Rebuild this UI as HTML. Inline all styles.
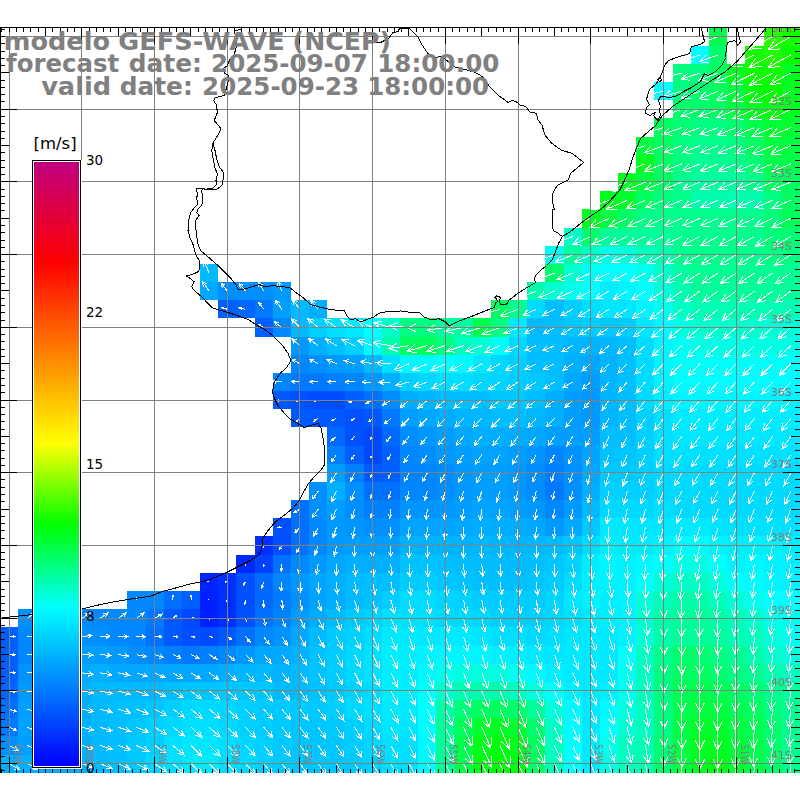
<!DOCTYPE html>
<html><head><meta charset="utf-8"><title>GEFS-WAVE</title>
<style>html,body{margin:0;padding:0;background:#fff}svg{display:block}text{font-family:"DejaVu Sans","Liberation Sans",sans-serif}</style></head>
<body>
<svg width="800" height="800" viewBox="0 0 800 800">
<rect width="800" height="800" fill="#fff"/>
<g shape-rendering="crispEdges">
<rect x="709" y="28" width="18" height="18" fill="#00ff4c"/><rect x="764" y="28" width="18" height="18" fill="#26ff00"/><rect x="782" y="28" width="18" height="18" fill="#13ff00"/>
<rect x="691" y="46" width="18" height="18" fill="#00ffff"/><rect x="709" y="46" width="18" height="18" fill="#00ff6c"/><rect x="745" y="46" width="19" height="18" fill="#13ff00"/><rect x="764" y="46" width="18" height="18" fill="#20ff00"/><rect x="782" y="46" width="18" height="18" fill="#06ff00"/>
<rect x="673" y="64" width="36" height="18" fill="#00ff80"/><rect x="709" y="64" width="18" height="18" fill="#00ff60"/><rect x="727" y="64" width="18" height="18" fill="#00ff20"/><rect x="745" y="64" width="37" height="18" fill="#0dff00"/><rect x="782" y="64" width="18" height="18" fill="#00ff20"/>
<rect x="654" y="82" width="19" height="18" fill="#00ffff"/><rect x="673" y="82" width="18" height="18" fill="#00ff80"/><rect x="691" y="82" width="18" height="18" fill="#00ff73"/><rect x="709" y="82" width="18" height="18" fill="#00ff60"/><rect x="727" y="82" width="18" height="18" fill="#00ff40"/><rect x="745" y="82" width="19" height="18" fill="#00ff0d"/><rect x="764" y="82" width="18" height="18" fill="#00ff00"/><rect x="782" y="82" width="18" height="18" fill="#00ff20"/>
<rect x="673" y="100" width="36" height="18" fill="#00ff6c"/><rect x="709" y="100" width="18" height="18" fill="#00ff60"/><rect x="727" y="100" width="18" height="18" fill="#00ff40"/><rect x="745" y="100" width="19" height="18" fill="#00ff20"/><rect x="764" y="100" width="18" height="18" fill="#00ff0d"/><rect x="782" y="100" width="18" height="18" fill="#00ff20"/>
<rect x="654" y="118" width="19" height="19" fill="#00ff60"/><rect x="673" y="118" width="18" height="19" fill="#00ff73"/><rect x="691" y="118" width="36" height="19" fill="#00ff80"/><rect x="727" y="118" width="18" height="19" fill="#00ff6c"/><rect x="745" y="118" width="19" height="19" fill="#00ff4c"/><rect x="764" y="118" width="36" height="19" fill="#00ff33"/>
<rect x="636" y="137" width="18" height="18" fill="#00ff40"/><rect x="654" y="137" width="19" height="18" fill="#00ff60"/><rect x="673" y="137" width="18" height="18" fill="#00ff80"/><rect x="691" y="137" width="36" height="18" fill="#00ff8c"/><rect x="727" y="137" width="18" height="18" fill="#00ff80"/><rect x="745" y="137" width="19" height="18" fill="#00ff60"/><rect x="764" y="137" width="36" height="18" fill="#00ff40"/>
<rect x="636" y="155" width="18" height="18" fill="#00ff20"/><rect x="654" y="155" width="19" height="18" fill="#00ff60"/><rect x="673" y="155" width="18" height="18" fill="#00ff80"/><rect x="691" y="155" width="36" height="18" fill="#00ff93"/><rect x="727" y="155" width="18" height="18" fill="#00ff8c"/><rect x="745" y="155" width="19" height="18" fill="#00ff73"/><rect x="764" y="155" width="36" height="18" fill="#00ff4c"/>
<rect x="618" y="173" width="18" height="18" fill="#00ff20"/><rect x="636" y="173" width="18" height="18" fill="#00ff40"/><rect x="654" y="173" width="19" height="18" fill="#00ff60"/><rect x="673" y="173" width="18" height="18" fill="#00ff8c"/><rect x="691" y="173" width="54" height="18" fill="#00ff9f"/><rect x="745" y="173" width="19" height="18" fill="#00ff8c"/><rect x="764" y="173" width="36" height="18" fill="#00ff60"/>
<rect x="600" y="191" width="18" height="18" fill="#00ff1a"/><rect x="618" y="191" width="18" height="18" fill="#00ff2d"/><rect x="636" y="191" width="18" height="18" fill="#00ff60"/><rect x="654" y="191" width="19" height="18" fill="#00ff80"/><rect x="673" y="191" width="18" height="18" fill="#00ff8c"/><rect x="691" y="191" width="36" height="18" fill="#00ffac"/><rect x="727" y="191" width="18" height="18" fill="#00ffb3"/><rect x="745" y="191" width="19" height="18" fill="#00ffac"/><rect x="764" y="191" width="18" height="18" fill="#00ff80"/><rect x="782" y="191" width="18" height="18" fill="#00ff60"/>
<rect x="582" y="209" width="18" height="19" fill="#00ff20"/><rect x="600" y="209" width="18" height="19" fill="#00ff40"/><rect x="618" y="209" width="18" height="19" fill="#00ff66"/><rect x="636" y="209" width="18" height="19" fill="#00ff86"/><rect x="654" y="209" width="110" height="19" fill="#00ff8c"/><rect x="764" y="209" width="18" height="19" fill="#00ff79"/><rect x="782" y="209" width="18" height="19" fill="#00ff59"/>
<rect x="564" y="228" width="18" height="18" fill="#00ffc6"/><rect x="582" y="228" width="18" height="18" fill="#00ff6c"/><rect x="600" y="228" width="73" height="18" fill="#00ff99"/><rect x="673" y="228" width="91" height="18" fill="#00ff8c"/><rect x="764" y="228" width="18" height="18" fill="#00ff79"/><rect x="782" y="228" width="18" height="18" fill="#00ff73"/>
<rect x="545" y="246" width="19" height="18" fill="#00fff2"/><rect x="564" y="246" width="18" height="18" fill="#00ff9f"/><rect x="582" y="246" width="18" height="18" fill="#00ffc6"/><rect x="600" y="246" width="18" height="18" fill="#00ffe5"/><rect x="618" y="246" width="18" height="18" fill="#00ffd9"/><rect x="636" y="246" width="18" height="18" fill="#00ffbf"/><rect x="654" y="246" width="19" height="18" fill="#00ffac"/><rect x="673" y="246" width="91" height="18" fill="#00ff8c"/><rect x="764" y="246" width="36" height="18" fill="#00ff80"/>
<rect x="200" y="264" width="18" height="18" fill="#00b9ff"/><rect x="545" y="264" width="19" height="18" fill="#00ff6c"/><rect x="564" y="264" width="18" height="18" fill="#00ffd2"/><rect x="582" y="264" width="18" height="18" fill="#00fff2"/><rect x="600" y="264" width="36" height="18" fill="#00ffff"/><rect x="636" y="264" width="18" height="18" fill="#00ffec"/><rect x="654" y="264" width="19" height="18" fill="#00ffc6"/><rect x="673" y="264" width="18" height="18" fill="#00ff9f"/><rect x="691" y="264" width="109" height="18" fill="#00ff93"/>
<rect x="200" y="282" width="18" height="18" fill="#00a9ff"/><rect x="218" y="282" width="55" height="18" fill="#008fff"/><rect x="273" y="282" width="18" height="18" fill="#0099ff"/><rect x="527" y="282" width="18" height="18" fill="#00ffac"/><rect x="545" y="282" width="19" height="18" fill="#00ffd2"/><rect x="564" y="282" width="18" height="18" fill="#00ffec"/><rect x="582" y="282" width="18" height="18" fill="#00ffff"/><rect x="600" y="282" width="18" height="18" fill="#00ecff"/><rect x="618" y="282" width="18" height="18" fill="#00f5ff"/><rect x="636" y="282" width="18" height="18" fill="#00ffff"/><rect x="654" y="282" width="19" height="18" fill="#00ffd9"/><rect x="673" y="282" width="18" height="18" fill="#00ffb3"/><rect x="691" y="282" width="109" height="18" fill="#00ff99"/>
<rect x="218" y="300" width="18" height="18" fill="#0060ff"/><rect x="236" y="300" width="19" height="18" fill="#0066ff"/><rect x="255" y="300" width="18" height="18" fill="#0079ff"/><rect x="273" y="300" width="18" height="18" fill="#009fff"/><rect x="291" y="300" width="18" height="18" fill="#00b9ff"/><rect x="309" y="300" width="18" height="18" fill="#00afff"/><rect x="491" y="300" width="18" height="18" fill="#00ff60"/><rect x="509" y="300" width="18" height="18" fill="#00ff8c"/><rect x="527" y="300" width="18" height="18" fill="#00d9ff"/><rect x="545" y="300" width="19" height="18" fill="#00beff"/><rect x="564" y="300" width="18" height="18" fill="#00ceff"/><rect x="582" y="300" width="18" height="18" fill="#00deff"/><rect x="600" y="300" width="18" height="18" fill="#00e7ff"/><rect x="618" y="300" width="18" height="18" fill="#00e6ff"/><rect x="636" y="300" width="18" height="18" fill="#00f5ff"/><rect x="654" y="300" width="19" height="18" fill="#00ffec"/><rect x="673" y="300" width="18" height="18" fill="#00ffc6"/><rect x="691" y="300" width="109" height="18" fill="#00ffb3"/>
<rect x="255" y="318" width="18" height="19" fill="#0060ff"/><rect x="273" y="318" width="18" height="19" fill="#0089ff"/><rect x="291" y="318" width="18" height="19" fill="#00b9ff"/><rect x="309" y="318" width="18" height="19" fill="#00cfff"/><rect x="327" y="318" width="18" height="19" fill="#00dfff"/><rect x="345" y="318" width="19" height="19" fill="#00e9ff"/><rect x="364" y="318" width="18" height="19" fill="#00ffff"/><rect x="382" y="318" width="18" height="19" fill="#00ffc6"/><rect x="400" y="318" width="36" height="19" fill="#00ff80"/><rect x="436" y="318" width="37" height="19" fill="#00ff9f"/><rect x="473" y="318" width="18" height="19" fill="#00ff4c"/><rect x="491" y="318" width="18" height="19" fill="#00ff80"/><rect x="509" y="318" width="18" height="19" fill="#00e9ff"/><rect x="527" y="318" width="18" height="19" fill="#00b9ff"/><rect x="545" y="318" width="19" height="19" fill="#00beff"/><rect x="564" y="318" width="18" height="19" fill="#00c7ff"/><rect x="582" y="318" width="18" height="19" fill="#00ceff"/><rect x="600" y="318" width="18" height="19" fill="#00c7ff"/><rect x="618" y="318" width="18" height="19" fill="#00ccff"/><rect x="636" y="318" width="18" height="19" fill="#00e6ff"/><rect x="654" y="318" width="19" height="19" fill="#00f9ff"/><rect x="673" y="318" width="18" height="19" fill="#00ffdf"/><rect x="691" y="318" width="73" height="19" fill="#00ffcc"/><rect x="764" y="318" width="36" height="19" fill="#00ffd9"/>
<rect x="291" y="337" width="18" height="18" fill="#0099ff"/><rect x="309" y="337" width="18" height="18" fill="#00afff"/><rect x="327" y="337" width="18" height="18" fill="#00bfff"/><rect x="345" y="337" width="19" height="18" fill="#00cfff"/><rect x="364" y="337" width="18" height="18" fill="#00f9ff"/><rect x="382" y="337" width="18" height="18" fill="#00ffac"/><rect x="400" y="337" width="18" height="18" fill="#00ff60"/><rect x="418" y="337" width="18" height="18" fill="#00ff59"/><rect x="436" y="337" width="19" height="18" fill="#00ff80"/><rect x="455" y="337" width="18" height="18" fill="#00ffbf"/><rect x="473" y="337" width="18" height="18" fill="#00ffd2"/><rect x="491" y="337" width="18" height="18" fill="#00fff9"/><rect x="509" y="337" width="18" height="18" fill="#00d9ff"/><rect x="527" y="337" width="18" height="18" fill="#00bfff"/><rect x="545" y="337" width="19" height="18" fill="#00beff"/><rect x="564" y="337" width="18" height="18" fill="#00b7ff"/><rect x="582" y="337" width="18" height="18" fill="#00b4ff"/><rect x="600" y="337" width="18" height="18" fill="#00b7ff"/><rect x="618" y="337" width="18" height="18" fill="#00bfff"/><rect x="636" y="337" width="18" height="18" fill="#00dcff"/><rect x="654" y="337" width="19" height="18" fill="#00f5ff"/><rect x="673" y="337" width="18" height="18" fill="#00fff2"/><rect x="691" y="337" width="109" height="18" fill="#00ffe5"/>
<rect x="291" y="355" width="18" height="18" fill="#0086ff"/><rect x="309" y="355" width="18" height="18" fill="#008fff"/><rect x="327" y="355" width="18" height="18" fill="#0099ff"/><rect x="345" y="355" width="19" height="18" fill="#009fff"/><rect x="364" y="355" width="18" height="18" fill="#00b9ff"/><rect x="382" y="355" width="18" height="18" fill="#00dfff"/><rect x="400" y="355" width="36" height="18" fill="#00f9ff"/><rect x="436" y="355" width="19" height="18" fill="#00ffff"/><rect x="455" y="355" width="18" height="18" fill="#00f9ff"/><rect x="473" y="355" width="18" height="18" fill="#00e9ff"/><rect x="491" y="355" width="18" height="18" fill="#00d9ff"/><rect x="509" y="355" width="18" height="18" fill="#00cfff"/><rect x="527" y="355" width="18" height="18" fill="#00bfff"/><rect x="545" y="355" width="19" height="18" fill="#00beff"/><rect x="564" y="355" width="18" height="18" fill="#00aeff"/><rect x="582" y="355" width="18" height="18" fill="#00a7ff"/><rect x="600" y="355" width="18" height="18" fill="#00b4ff"/><rect x="618" y="355" width="18" height="18" fill="#00bfff"/><rect x="636" y="355" width="18" height="18" fill="#00dcff"/><rect x="654" y="355" width="19" height="18" fill="#00f5ff"/><rect x="673" y="355" width="127" height="18" fill="#00fff9"/>
<rect x="273" y="373" width="18" height="18" fill="#0086ff"/><rect x="291" y="373" width="36" height="18" fill="#0079ff"/><rect x="327" y="373" width="18" height="18" fill="#0080ff"/><rect x="345" y="373" width="19" height="18" fill="#0086ff"/><rect x="364" y="373" width="18" height="18" fill="#0099ff"/><rect x="382" y="373" width="18" height="18" fill="#00afff"/><rect x="400" y="373" width="18" height="18" fill="#00ceff"/><rect x="418" y="373" width="18" height="18" fill="#00d7ff"/><rect x="436" y="373" width="37" height="18" fill="#00deff"/><rect x="473" y="373" width="18" height="18" fill="#00d7ff"/><rect x="491" y="373" width="18" height="18" fill="#00d4ff"/><rect x="509" y="373" width="18" height="18" fill="#00ceff"/><rect x="527" y="373" width="18" height="18" fill="#00c7ff"/><rect x="545" y="373" width="19" height="18" fill="#00beff"/><rect x="564" y="373" width="18" height="18" fill="#00a7ff"/><rect x="582" y="373" width="18" height="18" fill="#009eff"/><rect x="600" y="373" width="18" height="18" fill="#00b4ff"/><rect x="618" y="373" width="18" height="18" fill="#00bfff"/><rect x="636" y="373" width="18" height="18" fill="#00dcff"/><rect x="654" y="373" width="19" height="18" fill="#00f2ff"/><rect x="673" y="373" width="127" height="18" fill="#00fcff"/>
<rect x="273" y="391" width="18" height="18" fill="#0059ff"/><rect x="291" y="391" width="18" height="18" fill="#0050ff"/><rect x="309" y="391" width="36" height="18" fill="#004cff"/><rect x="345" y="391" width="19" height="18" fill="#0060ff"/><rect x="364" y="391" width="18" height="18" fill="#0070ff"/><rect x="382" y="391" width="18" height="18" fill="#008cff"/><rect x="400" y="391" width="18" height="18" fill="#00aeff"/><rect x="418" y="391" width="18" height="18" fill="#00b7ff"/><rect x="436" y="391" width="55" height="18" fill="#00beff"/><rect x="491" y="391" width="36" height="18" fill="#00c7ff"/><rect x="527" y="391" width="18" height="18" fill="#00beff"/><rect x="545" y="391" width="19" height="18" fill="#00aeff"/><rect x="564" y="391" width="18" height="18" fill="#009eff"/><rect x="582" y="391" width="18" height="18" fill="#0097ff"/><rect x="600" y="391" width="18" height="18" fill="#00b7ff"/><rect x="618" y="391" width="18" height="18" fill="#00bfff"/><rect x="636" y="391" width="18" height="18" fill="#00d9ff"/><rect x="654" y="391" width="19" height="18" fill="#00ecff"/><rect x="673" y="391" width="127" height="18" fill="#00f5ff"/>
<rect x="291" y="409" width="54" height="18" fill="#0059ff"/><rect x="345" y="409" width="19" height="18" fill="#0050ff"/><rect x="364" y="409" width="18" height="18" fill="#0059ff"/><rect x="382" y="409" width="18" height="18" fill="#0079ff"/><rect x="400" y="409" width="18" height="18" fill="#009eff"/><rect x="418" y="409" width="18" height="18" fill="#00a7ff"/><rect x="436" y="409" width="19" height="18" fill="#00aeff"/><rect x="455" y="409" width="18" height="18" fill="#00b4ff"/><rect x="473" y="409" width="18" height="18" fill="#00b7ff"/><rect x="491" y="409" width="36" height="18" fill="#00beff"/><rect x="527" y="409" width="18" height="18" fill="#00b7ff"/><rect x="545" y="409" width="19" height="18" fill="#00aeff"/><rect x="564" y="409" width="18" height="18" fill="#009eff"/><rect x="582" y="409" width="18" height="18" fill="#0097ff"/><rect x="600" y="409" width="18" height="18" fill="#00b7ff"/><rect x="618" y="409" width="18" height="18" fill="#00bfff"/><rect x="636" y="409" width="18" height="18" fill="#00cfff"/><rect x="654" y="409" width="19" height="18" fill="#00dfff"/><rect x="673" y="409" width="18" height="18" fill="#00eaff"/><rect x="691" y="409" width="109" height="18" fill="#00edff"/>
<rect x="327" y="427" width="18" height="19" fill="#0069ff"/><rect x="345" y="427" width="19" height="19" fill="#0050ff"/><rect x="364" y="427" width="18" height="19" fill="#0049ff"/><rect x="382" y="427" width="18" height="19" fill="#0069ff"/><rect x="400" y="427" width="18" height="19" fill="#008eff"/><rect x="418" y="427" width="18" height="19" fill="#0097ff"/><rect x="436" y="427" width="19" height="19" fill="#009eff"/><rect x="455" y="427" width="18" height="19" fill="#00a7ff"/><rect x="473" y="427" width="54" height="19" fill="#00aeff"/><rect x="527" y="427" width="18" height="19" fill="#00a7ff"/><rect x="545" y="427" width="55" height="19" fill="#009eff"/><rect x="600" y="427" width="18" height="19" fill="#00beff"/><rect x="618" y="427" width="18" height="19" fill="#00bfff"/><rect x="636" y="427" width="18" height="19" fill="#00cfff"/><rect x="654" y="427" width="19" height="19" fill="#00dfff"/><rect x="673" y="427" width="127" height="19" fill="#00e7ff"/>
<rect x="327" y="446" width="18" height="18" fill="#0080ff"/><rect x="345" y="446" width="19" height="18" fill="#0060ff"/><rect x="364" y="446" width="18" height="18" fill="#0049ff"/><rect x="382" y="446" width="18" height="18" fill="#0060ff"/><rect x="400" y="446" width="18" height="18" fill="#0087ff"/><rect x="418" y="446" width="18" height="18" fill="#008eff"/><rect x="436" y="446" width="19" height="18" fill="#0097ff"/><rect x="455" y="446" width="18" height="18" fill="#009eff"/><rect x="473" y="446" width="36" height="18" fill="#00a4ff"/><rect x="509" y="446" width="18" height="18" fill="#009eff"/><rect x="527" y="446" width="18" height="18" fill="#0094ff"/><rect x="545" y="446" width="19" height="18" fill="#0086ff"/><rect x="564" y="446" width="18" height="18" fill="#0093ff"/><rect x="582" y="446" width="18" height="18" fill="#00a3ff"/><rect x="600" y="446" width="18" height="18" fill="#00c2ff"/><rect x="618" y="446" width="18" height="18" fill="#00c6ff"/><rect x="636" y="446" width="18" height="18" fill="#00cfff"/><rect x="654" y="446" width="19" height="18" fill="#00dfff"/><rect x="673" y="446" width="127" height="18" fill="#00e1ff"/>
<rect x="327" y="464" width="18" height="18" fill="#009fff"/><rect x="345" y="464" width="19" height="18" fill="#0080ff"/><rect x="364" y="464" width="18" height="18" fill="#0059ff"/><rect x="382" y="464" width="18" height="18" fill="#0060ff"/><rect x="400" y="464" width="18" height="18" fill="#0084ff"/><rect x="418" y="464" width="18" height="18" fill="#0087ff"/><rect x="436" y="464" width="19" height="18" fill="#008eff"/><rect x="455" y="464" width="18" height="18" fill="#0097ff"/><rect x="473" y="464" width="36" height="18" fill="#009eff"/><rect x="509" y="464" width="18" height="18" fill="#0097ff"/><rect x="527" y="464" width="18" height="18" fill="#008eff"/><rect x="545" y="464" width="19" height="18" fill="#0080ff"/><rect x="564" y="464" width="18" height="18" fill="#008fff"/><rect x="582" y="464" width="18" height="18" fill="#00a9ff"/><rect x="600" y="464" width="36" height="18" fill="#00c9ff"/><rect x="636" y="464" width="18" height="18" fill="#00cfff"/><rect x="654" y="464" width="19" height="18" fill="#00d9ff"/><rect x="673" y="464" width="127" height="18" fill="#00daff"/>
<rect x="309" y="482" width="18" height="18" fill="#008fff"/><rect x="327" y="482" width="18" height="18" fill="#00afff"/><rect x="345" y="482" width="19" height="18" fill="#008fff"/><rect x="364" y="482" width="36" height="18" fill="#0070ff"/><rect x="400" y="482" width="36" height="18" fill="#0087ff"/><rect x="436" y="482" width="19" height="18" fill="#008eff"/><rect x="455" y="482" width="18" height="18" fill="#0097ff"/><rect x="473" y="482" width="36" height="18" fill="#009eff"/><rect x="509" y="482" width="18" height="18" fill="#0097ff"/><rect x="527" y="482" width="18" height="18" fill="#008eff"/><rect x="545" y="482" width="19" height="18" fill="#0079ff"/><rect x="564" y="482" width="18" height="18" fill="#008fff"/><rect x="582" y="482" width="18" height="18" fill="#00afff"/><rect x="600" y="482" width="54" height="18" fill="#00cfff"/><rect x="654" y="482" width="19" height="18" fill="#00d9ff"/><rect x="673" y="482" width="127" height="18" fill="#00daff"/>
<rect x="291" y="500" width="18" height="18" fill="#0070ff"/><rect x="309" y="500" width="18" height="18" fill="#008fff"/><rect x="327" y="500" width="18" height="18" fill="#009fff"/><rect x="345" y="500" width="19" height="18" fill="#008fff"/><rect x="364" y="500" width="36" height="18" fill="#0080ff"/><rect x="400" y="500" width="36" height="18" fill="#0094ff"/><rect x="436" y="500" width="19" height="18" fill="#0097ff"/><rect x="455" y="500" width="18" height="18" fill="#009eff"/><rect x="473" y="500" width="36" height="18" fill="#00a4ff"/><rect x="509" y="500" width="18" height="18" fill="#009eff"/><rect x="527" y="500" width="18" height="18" fill="#0097ff"/><rect x="545" y="500" width="19" height="18" fill="#0089ff"/><rect x="564" y="500" width="18" height="18" fill="#0099ff"/><rect x="582" y="500" width="18" height="18" fill="#00b9ff"/><rect x="600" y="500" width="54" height="18" fill="#00d9ff"/><rect x="654" y="500" width="19" height="18" fill="#00dfff"/><rect x="673" y="500" width="127" height="18" fill="#00daff"/>
<rect x="273" y="518" width="18" height="18" fill="#0050ff"/><rect x="291" y="518" width="18" height="18" fill="#0070ff"/><rect x="309" y="518" width="18" height="18" fill="#0089ff"/><rect x="327" y="518" width="18" height="18" fill="#0099ff"/><rect x="345" y="518" width="19" height="18" fill="#0096ff"/><rect x="364" y="518" width="36" height="18" fill="#008fff"/><rect x="400" y="518" width="55" height="18" fill="#00a4ff"/><rect x="455" y="518" width="18" height="18" fill="#00a7ff"/><rect x="473" y="518" width="54" height="18" fill="#00aeff"/><rect x="527" y="518" width="18" height="18" fill="#00a7ff"/><rect x="545" y="518" width="19" height="18" fill="#0099ff"/><rect x="564" y="518" width="18" height="18" fill="#00a9ff"/><rect x="582" y="518" width="18" height="18" fill="#00c9ff"/><rect x="600" y="518" width="18" height="18" fill="#00e9ff"/><rect x="618" y="518" width="36" height="18" fill="#00e6ff"/><rect x="654" y="518" width="19" height="18" fill="#00e9ff"/><rect x="673" y="518" width="36" height="18" fill="#00eaff"/><rect x="709" y="518" width="18" height="18" fill="#00e4ff"/><rect x="727" y="518" width="73" height="18" fill="#00e1ff"/>
<rect x="255" y="536" width="18" height="19" fill="#0030ff"/><rect x="273" y="536" width="18" height="19" fill="#0050ff"/><rect x="291" y="536" width="18" height="19" fill="#0070ff"/><rect x="309" y="536" width="18" height="19" fill="#0089ff"/><rect x="327" y="536" width="18" height="19" fill="#0099ff"/><rect x="345" y="536" width="55" height="19" fill="#009fff"/><rect x="400" y="536" width="73" height="19" fill="#00b3ff"/><rect x="473" y="536" width="72" height="19" fill="#00b6ff"/><rect x="545" y="536" width="19" height="19" fill="#00bcff"/><rect x="564" y="536" width="18" height="19" fill="#00c6ff"/><rect x="582" y="536" width="18" height="19" fill="#00dcff"/><rect x="600" y="536" width="18" height="19" fill="#00efff"/><rect x="618" y="536" width="18" height="19" fill="#00e9ff"/><rect x="636" y="536" width="18" height="19" fill="#00ecff"/><rect x="654" y="536" width="19" height="19" fill="#00f2ff"/><rect x="673" y="536" width="36" height="19" fill="#00fcff"/><rect x="709" y="536" width="18" height="19" fill="#00f2ff"/><rect x="727" y="536" width="18" height="19" fill="#00ecff"/><rect x="745" y="536" width="55" height="19" fill="#00efff"/>
<rect x="236" y="555" width="19" height="18" fill="#0029ff"/><rect x="255" y="555" width="18" height="18" fill="#0040ff"/><rect x="273" y="555" width="18" height="18" fill="#0070ff"/><rect x="291" y="555" width="18" height="18" fill="#0089ff"/><rect x="309" y="555" width="18" height="18" fill="#0099ff"/><rect x="327" y="555" width="18" height="18" fill="#00a6ff"/><rect x="345" y="555" width="55" height="18" fill="#00afff"/><rect x="400" y="555" width="36" height="18" fill="#00c2ff"/><rect x="436" y="555" width="19" height="18" fill="#00bfff"/><rect x="455" y="555" width="72" height="18" fill="#00bcff"/><rect x="527" y="555" width="18" height="18" fill="#00bfff"/><rect x="545" y="555" width="19" height="18" fill="#00c6ff"/><rect x="564" y="555" width="18" height="18" fill="#00d2ff"/><rect x="582" y="555" width="18" height="18" fill="#00ecff"/><rect x="600" y="555" width="18" height="18" fill="#00f5ff"/><rect x="618" y="555" width="18" height="18" fill="#00f2ff"/><rect x="636" y="555" width="18" height="18" fill="#00f9ff"/><rect x="654" y="555" width="19" height="18" fill="#00fff9"/><rect x="673" y="555" width="36" height="18" fill="#00ffe5"/><rect x="709" y="555" width="18" height="18" fill="#00fff9"/><rect x="727" y="555" width="18" height="18" fill="#00f2ff"/><rect x="745" y="555" width="19" height="18" fill="#00f9ff"/><rect x="764" y="555" width="18" height="18" fill="#00f2ff"/><rect x="782" y="555" width="18" height="18" fill="#00efff"/>
<rect x="200" y="573" width="18" height="18" fill="#0026ff"/><rect x="218" y="573" width="18" height="18" fill="#0030ff"/><rect x="236" y="573" width="19" height="18" fill="#0050ff"/><rect x="255" y="573" width="18" height="18" fill="#0069ff"/><rect x="273" y="573" width="18" height="18" fill="#0086ff"/><rect x="291" y="573" width="18" height="18" fill="#0099ff"/><rect x="309" y="573" width="18" height="18" fill="#00a6ff"/><rect x="327" y="573" width="18" height="18" fill="#00afff"/><rect x="345" y="573" width="19" height="18" fill="#00b9ff"/><rect x="364" y="573" width="36" height="18" fill="#00bfff"/><rect x="400" y="573" width="36" height="18" fill="#00ccff"/><rect x="436" y="573" width="19" height="18" fill="#00c6ff"/><rect x="455" y="573" width="18" height="18" fill="#00c2ff"/><rect x="473" y="573" width="54" height="18" fill="#00bfff"/><rect x="527" y="573" width="18" height="18" fill="#00c6ff"/><rect x="545" y="573" width="19" height="18" fill="#00ccff"/><rect x="564" y="573" width="18" height="18" fill="#00dcff"/><rect x="582" y="573" width="18" height="18" fill="#00efff"/><rect x="600" y="573" width="36" height="18" fill="#00f2ff"/><rect x="636" y="573" width="18" height="18" fill="#00fff9"/><rect x="654" y="573" width="19" height="18" fill="#00ffd9"/><rect x="673" y="573" width="36" height="18" fill="#00ffc6"/><rect x="709" y="573" width="18" height="18" fill="#00ffdf"/><rect x="727" y="573" width="18" height="18" fill="#00ffff"/><rect x="745" y="573" width="19" height="18" fill="#00fcff"/><rect x="764" y="573" width="18" height="18" fill="#00f5ff"/><rect x="782" y="573" width="18" height="18" fill="#00f2ff"/>
<rect x="127" y="591" width="37" height="18" fill="#0089ff"/><rect x="164" y="591" width="18" height="18" fill="#0070ff"/><rect x="182" y="591" width="18" height="18" fill="#0060ff"/><rect x="200" y="591" width="18" height="18" fill="#0020ff"/><rect x="218" y="591" width="18" height="18" fill="#0030ff"/><rect x="236" y="591" width="19" height="18" fill="#0050ff"/><rect x="255" y="591" width="18" height="18" fill="#0069ff"/><rect x="273" y="591" width="18" height="18" fill="#007cff"/><rect x="291" y="591" width="18" height="18" fill="#0093ff"/><rect x="309" y="591" width="18" height="18" fill="#00a3ff"/><rect x="327" y="591" width="18" height="18" fill="#00acff"/><rect x="345" y="591" width="19" height="18" fill="#00b9ff"/><rect x="364" y="591" width="18" height="18" fill="#00c2ff"/><rect x="382" y="591" width="18" height="18" fill="#00cfff"/><rect x="400" y="591" width="36" height="18" fill="#00dcff"/><rect x="436" y="591" width="19" height="18" fill="#00d6ff"/><rect x="455" y="591" width="18" height="18" fill="#00d2ff"/><rect x="473" y="591" width="72" height="18" fill="#00ccff"/><rect x="545" y="591" width="19" height="18" fill="#00d6ff"/><rect x="564" y="591" width="18" height="18" fill="#00e6ff"/><rect x="582" y="591" width="18" height="18" fill="#00f2ff"/><rect x="600" y="591" width="18" height="18" fill="#00efff"/><rect x="618" y="591" width="18" height="18" fill="#00f2ff"/><rect x="636" y="591" width="18" height="18" fill="#00ffd9"/><rect x="654" y="591" width="19" height="18" fill="#00ffb9"/><rect x="673" y="591" width="36" height="18" fill="#00ffa6"/><rect x="709" y="591" width="18" height="18" fill="#00ffb9"/><rect x="727" y="591" width="18" height="18" fill="#00ffd9"/><rect x="745" y="591" width="19" height="18" fill="#00ffec"/><rect x="764" y="591" width="36" height="18" fill="#00ffff"/>
<rect x="18" y="609" width="18" height="18" fill="#008fff"/><rect x="36" y="609" width="19" height="18" fill="#008cff"/><rect x="55" y="609" width="91" height="18" fill="#0089ff"/><rect x="146" y="609" width="18" height="18" fill="#0079ff"/><rect x="164" y="609" width="18" height="18" fill="#0059ff"/><rect x="182" y="609" width="18" height="18" fill="#0049ff"/><rect x="200" y="609" width="18" height="18" fill="#0020ff"/><rect x="218" y="609" width="18" height="18" fill="#0030ff"/><rect x="236" y="609" width="19" height="18" fill="#0050ff"/><rect x="255" y="609" width="18" height="18" fill="#0070ff"/><rect x="273" y="609" width="18" height="18" fill="#0083ff"/><rect x="291" y="609" width="18" height="18" fill="#009cff"/><rect x="309" y="609" width="18" height="18" fill="#00acff"/><rect x="327" y="609" width="18" height="18" fill="#00bcff"/><rect x="345" y="609" width="19" height="18" fill="#00c9ff"/><rect x="364" y="609" width="18" height="18" fill="#00d2ff"/><rect x="382" y="609" width="54" height="18" fill="#00dfff"/><rect x="436" y="609" width="37" height="18" fill="#00d9ff"/><rect x="473" y="609" width="18" height="18" fill="#00d6ff"/><rect x="491" y="609" width="54" height="18" fill="#00cfff"/><rect x="545" y="609" width="19" height="18" fill="#00d6ff"/><rect x="564" y="609" width="18" height="18" fill="#00dfff"/><rect x="582" y="609" width="18" height="18" fill="#00e9ff"/><rect x="600" y="609" width="18" height="18" fill="#00efff"/><rect x="618" y="609" width="18" height="18" fill="#00f2ff"/><rect x="636" y="609" width="18" height="18" fill="#00ffcc"/><rect x="654" y="609" width="19" height="18" fill="#00ffa6"/><rect x="673" y="609" width="36" height="18" fill="#00ff99"/><rect x="709" y="609" width="18" height="18" fill="#00ffa6"/><rect x="727" y="609" width="18" height="18" fill="#00ffb9"/><rect x="745" y="609" width="19" height="18" fill="#00ffcc"/><rect x="764" y="609" width="18" height="18" fill="#00ffec"/><rect x="782" y="609" width="18" height="18" fill="#00fff2"/>
<rect x="0" y="627" width="18" height="19" fill="#0060ff"/><rect x="18" y="627" width="18" height="19" fill="#0089ff"/><rect x="36" y="627" width="19" height="19" fill="#0086ff"/><rect x="55" y="627" width="18" height="19" fill="#008cff"/><rect x="73" y="627" width="36" height="19" fill="#008fff"/><rect x="109" y="627" width="18" height="19" fill="#0089ff"/><rect x="127" y="627" width="19" height="19" fill="#0086ff"/><rect x="146" y="627" width="18" height="19" fill="#0070ff"/><rect x="164" y="627" width="18" height="19" fill="#0059ff"/><rect x="182" y="627" width="18" height="19" fill="#0050ff"/><rect x="200" y="627" width="18" height="19" fill="#0049ff"/><rect x="218" y="627" width="18" height="19" fill="#0059ff"/><rect x="236" y="627" width="19" height="19" fill="#0070ff"/><rect x="255" y="627" width="18" height="19" fill="#0089ff"/><rect x="273" y="627" width="18" height="19" fill="#0093ff"/><rect x="291" y="627" width="18" height="19" fill="#00a9ff"/><rect x="309" y="627" width="18" height="19" fill="#00b9ff"/><rect x="327" y="627" width="18" height="19" fill="#00c9ff"/><rect x="345" y="627" width="19" height="19" fill="#00d2ff"/><rect x="364" y="627" width="18" height="19" fill="#00dcff"/><rect x="382" y="627" width="91" height="19" fill="#00e9ff"/><rect x="473" y="627" width="18" height="19" fill="#00e6ff"/><rect x="491" y="627" width="36" height="19" fill="#00dfff"/><rect x="527" y="627" width="18" height="19" fill="#00d9ff"/><rect x="545" y="627" width="19" height="19" fill="#00dfff"/><rect x="564" y="627" width="18" height="19" fill="#00e6ff"/><rect x="582" y="627" width="36" height="19" fill="#00e9ff"/><rect x="618" y="627" width="18" height="19" fill="#00f2ff"/><rect x="636" y="627" width="18" height="19" fill="#00ffd6"/><rect x="654" y="627" width="19" height="19" fill="#00ffa9"/><rect x="673" y="627" width="36" height="19" fill="#00ff96"/><rect x="709" y="627" width="18" height="19" fill="#00ff9c"/><rect x="727" y="627" width="18" height="19" fill="#00ffb6"/><rect x="745" y="627" width="19" height="19" fill="#00ffbc"/><rect x="764" y="627" width="18" height="19" fill="#00ffdc"/><rect x="782" y="627" width="18" height="19" fill="#00ffef"/>
<rect x="0" y="646" width="18" height="18" fill="#0060ff"/><rect x="18" y="646" width="18" height="18" fill="#0089ff"/><rect x="36" y="646" width="19" height="18" fill="#008cff"/><rect x="55" y="646" width="18" height="18" fill="#0099ff"/><rect x="73" y="646" width="36" height="18" fill="#009fff"/><rect x="109" y="646" width="18" height="18" fill="#0099ff"/><rect x="127" y="646" width="19" height="18" fill="#008fff"/><rect x="146" y="646" width="18" height="18" fill="#0089ff"/><rect x="164" y="646" width="18" height="18" fill="#0080ff"/><rect x="182" y="646" width="18" height="18" fill="#0079ff"/><rect x="200" y="646" width="18" height="18" fill="#0080ff"/><rect x="218" y="646" width="18" height="18" fill="#0089ff"/><rect x="236" y="646" width="19" height="18" fill="#0096ff"/><rect x="255" y="646" width="18" height="18" fill="#00a6ff"/><rect x="273" y="646" width="18" height="18" fill="#00a9ff"/><rect x="291" y="646" width="18" height="18" fill="#00b2ff"/><rect x="309" y="646" width="18" height="18" fill="#00c2ff"/><rect x="327" y="646" width="18" height="18" fill="#00ccff"/><rect x="345" y="646" width="19" height="18" fill="#00d9ff"/><rect x="364" y="646" width="18" height="18" fill="#00e2ff"/><rect x="382" y="646" width="36" height="18" fill="#00efff"/><rect x="418" y="646" width="18" height="18" fill="#00f2ff"/><rect x="436" y="646" width="55" height="18" fill="#00f5ff"/><rect x="491" y="646" width="18" height="18" fill="#00f2ff"/><rect x="509" y="646" width="18" height="18" fill="#00efff"/><rect x="527" y="646" width="18" height="18" fill="#00e9ff"/><rect x="545" y="646" width="19" height="18" fill="#00e6ff"/><rect x="564" y="646" width="54" height="18" fill="#00e9ff"/><rect x="618" y="646" width="18" height="18" fill="#00ffff"/><rect x="636" y="646" width="18" height="18" fill="#00ffbf"/><rect x="654" y="646" width="19" height="18" fill="#00ff8c"/><rect x="673" y="646" width="36" height="18" fill="#00ff6c"/><rect x="709" y="646" width="18" height="18" fill="#00ff80"/><rect x="727" y="646" width="18" height="18" fill="#00ff93"/><rect x="745" y="646" width="19" height="18" fill="#00ffac"/><rect x="764" y="646" width="18" height="18" fill="#00ffcc"/><rect x="782" y="646" width="18" height="18" fill="#00ffdf"/>
<rect x="0" y="664" width="18" height="18" fill="#0060ff"/><rect x="18" y="664" width="18" height="18" fill="#0093ff"/><rect x="36" y="664" width="19" height="18" fill="#0096ff"/><rect x="55" y="664" width="18" height="18" fill="#009fff"/><rect x="73" y="664" width="18" height="18" fill="#00a9ff"/><rect x="91" y="664" width="18" height="18" fill="#00afff"/><rect x="109" y="664" width="18" height="18" fill="#00a9ff"/><rect x="127" y="664" width="73" height="18" fill="#00a6ff"/><rect x="200" y="664" width="18" height="18" fill="#00a9ff"/><rect x="218" y="664" width="18" height="18" fill="#00afff"/><rect x="236" y="664" width="19" height="18" fill="#00b6ff"/><rect x="255" y="664" width="18" height="18" fill="#00b9ff"/><rect x="273" y="664" width="18" height="18" fill="#00b2ff"/><rect x="291" y="664" width="18" height="18" fill="#00bcff"/><rect x="309" y="664" width="18" height="18" fill="#00c2ff"/><rect x="327" y="664" width="18" height="18" fill="#00ccff"/><rect x="345" y="664" width="19" height="18" fill="#00d9ff"/><rect x="364" y="664" width="18" height="18" fill="#00e2ff"/><rect x="382" y="664" width="36" height="18" fill="#00efff"/><rect x="418" y="664" width="18" height="18" fill="#00f9ff"/><rect x="436" y="664" width="19" height="18" fill="#00ffec"/><rect x="455" y="664" width="54" height="18" fill="#00ffdf"/><rect x="509" y="664" width="18" height="18" fill="#00fff2"/><rect x="527" y="664" width="18" height="18" fill="#00f9ff"/><rect x="545" y="664" width="19" height="18" fill="#00efff"/><rect x="564" y="664" width="54" height="18" fill="#00e9ff"/><rect x="618" y="664" width="18" height="18" fill="#00fff2"/><rect x="636" y="664" width="18" height="18" fill="#00ffbf"/><rect x="654" y="664" width="19" height="18" fill="#00ff80"/><rect x="673" y="664" width="36" height="18" fill="#00ff60"/><rect x="709" y="664" width="18" height="18" fill="#00ff6c"/><rect x="727" y="664" width="18" height="18" fill="#00ff80"/><rect x="745" y="664" width="19" height="18" fill="#00ff93"/><rect x="764" y="664" width="18" height="18" fill="#00ffac"/><rect x="782" y="664" width="18" height="18" fill="#00ffbf"/>
<rect x="0" y="682" width="18" height="18" fill="#0066ff"/><rect x="18" y="682" width="18" height="18" fill="#0099ff"/><rect x="36" y="682" width="19" height="18" fill="#009cff"/><rect x="55" y="682" width="18" height="18" fill="#00a6ff"/><rect x="73" y="682" width="18" height="18" fill="#00afff"/><rect x="91" y="682" width="73" height="18" fill="#00b9ff"/><rect x="164" y="682" width="18" height="18" fill="#00bfff"/><rect x="182" y="682" width="91" height="18" fill="#00c6ff"/><rect x="273" y="682" width="36" height="18" fill="#00bcff"/><rect x="309" y="682" width="18" height="18" fill="#00c2ff"/><rect x="327" y="682" width="18" height="18" fill="#00c9ff"/><rect x="345" y="682" width="19" height="18" fill="#00d2ff"/><rect x="364" y="682" width="18" height="18" fill="#00dcff"/><rect x="382" y="682" width="36" height="18" fill="#00efff"/><rect x="418" y="682" width="18" height="18" fill="#00ffff"/><rect x="436" y="682" width="19" height="18" fill="#00ffcc"/><rect x="455" y="682" width="18" height="18" fill="#00ffb3"/><rect x="473" y="682" width="36" height="18" fill="#00ffac"/><rect x="509" y="682" width="18" height="18" fill="#00ffbf"/><rect x="527" y="682" width="18" height="18" fill="#00ffdf"/><rect x="545" y="682" width="19" height="18" fill="#00ffff"/><rect x="564" y="682" width="18" height="18" fill="#00efff"/><rect x="582" y="682" width="18" height="18" fill="#00e9ff"/><rect x="600" y="682" width="18" height="18" fill="#00efff"/><rect x="618" y="682" width="18" height="18" fill="#00ffec"/><rect x="636" y="682" width="18" height="18" fill="#00ffbf"/><rect x="654" y="682" width="19" height="18" fill="#00ff80"/><rect x="673" y="682" width="18" height="18" fill="#00ff53"/><rect x="691" y="682" width="18" height="18" fill="#00ff4c"/><rect x="709" y="682" width="18" height="18" fill="#00ff53"/><rect x="727" y="682" width="18" height="18" fill="#00ff60"/><rect x="745" y="682" width="19" height="18" fill="#00ff73"/><rect x="764" y="682" width="18" height="18" fill="#00ff8c"/><rect x="782" y="682" width="18" height="18" fill="#00ff9f"/>
<rect x="0" y="700" width="18" height="18" fill="#0070ff"/><rect x="18" y="700" width="37" height="18" fill="#009fff"/><rect x="55" y="700" width="18" height="18" fill="#00a9ff"/><rect x="73" y="700" width="18" height="18" fill="#00afff"/><rect x="91" y="700" width="18" height="18" fill="#00b9ff"/><rect x="109" y="700" width="37" height="18" fill="#00bfff"/><rect x="146" y="700" width="18" height="18" fill="#00c6ff"/><rect x="164" y="700" width="18" height="18" fill="#00cfff"/><rect x="182" y="700" width="36" height="18" fill="#00d9ff"/><rect x="218" y="700" width="18" height="18" fill="#00d6ff"/><rect x="236" y="700" width="19" height="18" fill="#00cfff"/><rect x="255" y="700" width="72" height="18" fill="#00c9ff"/><rect x="327" y="700" width="18" height="18" fill="#00cfff"/><rect x="345" y="700" width="19" height="18" fill="#00d9ff"/><rect x="364" y="700" width="18" height="18" fill="#00dfff"/><rect x="382" y="700" width="36" height="18" fill="#00e9ff"/><rect x="418" y="700" width="18" height="18" fill="#00ffff"/><rect x="436" y="700" width="19" height="18" fill="#00ffa6"/><rect x="455" y="700" width="18" height="18" fill="#00ff79"/><rect x="473" y="700" width="36" height="18" fill="#00ff60"/><rect x="509" y="700" width="18" height="18" fill="#00ff6c"/><rect x="527" y="700" width="18" height="18" fill="#00ff99"/><rect x="545" y="700" width="19" height="18" fill="#00ffdf"/><rect x="564" y="700" width="18" height="18" fill="#00f9ff"/><rect x="582" y="700" width="18" height="18" fill="#00e9ff"/><rect x="600" y="700" width="18" height="18" fill="#00f9ff"/><rect x="618" y="700" width="18" height="18" fill="#00ffdf"/><rect x="636" y="700" width="18" height="18" fill="#00ffbf"/><rect x="654" y="700" width="19" height="18" fill="#00ff80"/><rect x="673" y="700" width="18" height="18" fill="#00ff4c"/><rect x="691" y="700" width="36" height="18" fill="#00ff40"/><rect x="727" y="700" width="18" height="18" fill="#00ff53"/><rect x="745" y="700" width="19" height="18" fill="#00ff60"/><rect x="764" y="700" width="18" height="18" fill="#00ff80"/><rect x="782" y="700" width="18" height="18" fill="#00ff93"/>
<rect x="0" y="718" width="18" height="18" fill="#0079ff"/><rect x="18" y="718" width="18" height="18" fill="#00a3ff"/><rect x="36" y="718" width="19" height="18" fill="#009fff"/><rect x="55" y="718" width="18" height="18" fill="#00a9ff"/><rect x="73" y="718" width="18" height="18" fill="#00afff"/><rect x="91" y="718" width="18" height="18" fill="#00b9ff"/><rect x="109" y="718" width="18" height="18" fill="#00bfff"/><rect x="127" y="718" width="19" height="18" fill="#00c6ff"/><rect x="146" y="718" width="18" height="18" fill="#00cfff"/><rect x="164" y="718" width="18" height="18" fill="#00d9ff"/><rect x="182" y="718" width="36" height="18" fill="#00dfff"/><rect x="218" y="718" width="18" height="18" fill="#00d9ff"/><rect x="236" y="718" width="19" height="18" fill="#00d2ff"/><rect x="255" y="718" width="18" height="18" fill="#00ccff"/><rect x="273" y="718" width="18" height="18" fill="#00c9ff"/><rect x="291" y="718" width="36" height="18" fill="#00c6ff"/><rect x="327" y="718" width="18" height="18" fill="#00c9ff"/><rect x="345" y="718" width="19" height="18" fill="#00cfff"/><rect x="364" y="718" width="18" height="18" fill="#00d9ff"/><rect x="382" y="718" width="36" height="18" fill="#00e6ff"/><rect x="418" y="718" width="18" height="18" fill="#00fcff"/><rect x="436" y="718" width="19" height="18" fill="#00ff99"/><rect x="455" y="718" width="18" height="18" fill="#00ff59"/><rect x="473" y="718" width="18" height="18" fill="#00ff2d"/><rect x="491" y="718" width="18" height="18" fill="#00ff26"/><rect x="509" y="718" width="18" height="18" fill="#00ff33"/><rect x="527" y="718" width="18" height="18" fill="#00ff6c"/><rect x="545" y="718" width="19" height="18" fill="#00ffc6"/><rect x="564" y="718" width="18" height="18" fill="#00fcff"/><rect x="582" y="718" width="18" height="18" fill="#00e9ff"/><rect x="600" y="718" width="18" height="18" fill="#00ffff"/><rect x="618" y="718" width="18" height="18" fill="#00ffd2"/><rect x="636" y="718" width="18" height="18" fill="#00ffbf"/><rect x="654" y="718" width="19" height="18" fill="#00ff80"/><rect x="673" y="718" width="18" height="18" fill="#00ff40"/><rect x="691" y="718" width="36" height="18" fill="#00ff2d"/><rect x="727" y="718" width="18" height="18" fill="#00ff40"/><rect x="745" y="718" width="19" height="18" fill="#00ff53"/><rect x="764" y="718" width="18" height="18" fill="#00ff6c"/><rect x="782" y="718" width="18" height="18" fill="#00ff8c"/>
<rect x="0" y="736" width="18" height="19" fill="#008fff"/><rect x="18" y="736" width="18" height="19" fill="#009fff"/><rect x="36" y="736" width="19" height="19" fill="#00a6ff"/><rect x="55" y="736" width="18" height="19" fill="#00a9ff"/><rect x="73" y="736" width="18" height="19" fill="#00afff"/><rect x="91" y="736" width="18" height="19" fill="#00b9ff"/><rect x="109" y="736" width="18" height="19" fill="#00bfff"/><rect x="127" y="736" width="19" height="19" fill="#00c9ff"/><rect x="146" y="736" width="18" height="19" fill="#00cfff"/><rect x="164" y="736" width="18" height="19" fill="#00dfff"/><rect x="182" y="736" width="36" height="19" fill="#00e6ff"/><rect x="218" y="736" width="18" height="19" fill="#00dfff"/><rect x="236" y="736" width="19" height="19" fill="#00d6ff"/><rect x="255" y="736" width="18" height="19" fill="#00cfff"/><rect x="273" y="736" width="18" height="19" fill="#00c9ff"/><rect x="291" y="736" width="54" height="19" fill="#00c6ff"/><rect x="345" y="736" width="19" height="19" fill="#00ccff"/><rect x="364" y="736" width="18" height="19" fill="#00d6ff"/><rect x="382" y="736" width="36" height="19" fill="#00dfff"/><rect x="418" y="736" width="18" height="19" fill="#00f9ff"/><rect x="436" y="736" width="19" height="19" fill="#00ff99"/><rect x="455" y="736" width="18" height="19" fill="#00ff4c"/><rect x="473" y="736" width="18" height="19" fill="#00ff1a"/><rect x="491" y="736" width="18" height="19" fill="#00ff0d"/><rect x="509" y="736" width="18" height="19" fill="#00ff1a"/><rect x="527" y="736" width="18" height="19" fill="#00ff60"/><rect x="545" y="736" width="19" height="19" fill="#00ffbf"/><rect x="564" y="736" width="18" height="19" fill="#00ffff"/><rect x="582" y="736" width="18" height="19" fill="#00e9ff"/><rect x="600" y="736" width="18" height="19" fill="#00ffec"/><rect x="618" y="736" width="18" height="19" fill="#00ffbf"/><rect x="636" y="736" width="18" height="19" fill="#00ffb3"/><rect x="654" y="736" width="19" height="19" fill="#00ff73"/><rect x="673" y="736" width="18" height="19" fill="#00ff40"/><rect x="691" y="736" width="36" height="19" fill="#00ff20"/><rect x="727" y="736" width="18" height="19" fill="#00ff33"/><rect x="745" y="736" width="19" height="19" fill="#00ff4c"/><rect x="764" y="736" width="18" height="19" fill="#00ff6c"/><rect x="782" y="736" width="18" height="19" fill="#00ff8c"/>
<rect x="0" y="755" width="91" height="18" fill="#00afff"/><rect x="91" y="755" width="18" height="18" fill="#00b9ff"/><rect x="109" y="755" width="18" height="18" fill="#00bfff"/><rect x="127" y="755" width="19" height="18" fill="#00c9ff"/><rect x="146" y="755" width="18" height="18" fill="#00d6ff"/><rect x="164" y="755" width="18" height="18" fill="#00dfff"/><rect x="182" y="755" width="36" height="18" fill="#00e9ff"/><rect x="218" y="755" width="18" height="18" fill="#00dfff"/><rect x="236" y="755" width="19" height="18" fill="#00d9ff"/><rect x="255" y="755" width="18" height="18" fill="#00cfff"/><rect x="273" y="755" width="18" height="18" fill="#00c9ff"/><rect x="291" y="755" width="54" height="18" fill="#00c6ff"/><rect x="345" y="755" width="19" height="18" fill="#00c9ff"/><rect x="364" y="755" width="18" height="18" fill="#00d2ff"/><rect x="382" y="755" width="36" height="18" fill="#00dfff"/><rect x="418" y="755" width="18" height="18" fill="#00f9ff"/><rect x="436" y="755" width="19" height="18" fill="#00ff99"/><rect x="455" y="755" width="18" height="18" fill="#00ff4c"/><rect x="473" y="755" width="18" height="18" fill="#00ff13"/><rect x="491" y="755" width="18" height="18" fill="#00ff06"/><rect x="509" y="755" width="18" height="18" fill="#00ff13"/><rect x="527" y="755" width="18" height="18" fill="#00ff60"/><rect x="545" y="755" width="19" height="18" fill="#00ffb9"/><rect x="564" y="755" width="18" height="18" fill="#00ffff"/><rect x="582" y="755" width="18" height="18" fill="#00e9ff"/><rect x="600" y="755" width="18" height="18" fill="#00ffdf"/><rect x="618" y="755" width="18" height="18" fill="#00ffbf"/><rect x="636" y="755" width="18" height="18" fill="#00ffac"/><rect x="654" y="755" width="19" height="18" fill="#00ff6c"/><rect x="673" y="755" width="18" height="18" fill="#00ff40"/><rect x="691" y="755" width="18" height="18" fill="#00ff20"/><rect x="709" y="755" width="18" height="18" fill="#00ff13"/><rect x="727" y="755" width="18" height="18" fill="#00ff2d"/><rect x="745" y="755" width="19" height="18" fill="#00ff4c"/><rect x="764" y="755" width="18" height="18" fill="#00ff6c"/><rect x="782" y="755" width="18" height="18" fill="#00ff8c"/>
</g>
<path fill="none" stroke="#fff" stroke-width="1" shape-rendering="crispEdges" d="M718.1 36.7L698.3 43.9M705.1 36.8L698.3 43.9L708.1 44.9M772.6 36.7L749.2 49.1M756.5 39.1L749.2 49.1L761.6 48.7M790.8 36.7L768.1 49.8M775.0 39.6L768.1 49.8L780.4 48.9M699.9 54.9L684.5 60.5M689.9 54.9L684.5 60.5L692.2 61.3M718.1 54.9L699.3 61.7M705.8 54.9L699.3 61.7L708.6 62.7M754.4 54.9L730.8 66.0M738.5 56.5L730.8 66.0L743.1 66.2M772.6 54.9L749.3 67.2M756.6 57.2L749.3 67.2L761.7 66.8M790.8 54.9L768.4 67.4M775.3 57.5L768.4 67.4L780.4 66.7M681.7 73.0L663.0 78.1M669.9 72.1L663.0 78.1L672.0 79.8M699.9 73.0L681.5 79.1M688.0 72.8L681.5 79.1L690.5 80.3M718.1 73.0L699.0 80.4M705.5 73.3L699.0 80.4L708.6 81.2M736.2 73.0L714.8 82.4M721.9 74.0L714.8 82.4L725.8 82.9M754.4 73.0L731.2 84.8M738.6 75.1L731.2 84.8L743.5 84.6M772.6 73.0L749.6 85.1M756.8 75.3L749.6 85.1L761.8 84.8M790.8 73.0L770.3 84.3M776.6 75.3L770.3 84.3L781.2 83.7M663.5 91.2L647.6 94.8M653.6 90.0L647.6 94.8L655.1 96.6M681.7 91.2L663.2 96.7M669.9 90.6L663.2 96.7L672.1 98.2M699.9 91.2L681.3 98.0M687.8 91.3L681.3 98.0L690.6 98.9M718.1 91.2L699.1 98.9M705.6 91.7L699.1 98.9L708.7 99.5M736.2 91.2L716.6 100.0M723.1 92.2L716.6 100.0L726.7 100.3M754.4 91.2L732.3 101.7M739.5 92.7L732.3 101.7L743.8 101.8M772.6 91.2L750.0 102.5M757.2 93.1L750.0 102.5L761.9 102.4M790.8 91.2L770.1 102.2M776.6 93.3L770.1 102.2L781.1 101.8M681.7 109.4L662.7 115.7M669.5 109.1L662.7 115.7L672.0 116.9M699.9 109.4L681.1 116.3M687.6 109.5L681.1 116.3L690.5 117.3M718.1 109.4L699.0 116.7M705.5 109.7L699.0 116.7L708.6 117.5M736.2 109.4L716.4 117.8M723.1 110.2L716.4 117.8L726.5 118.3M754.4 109.4L732.9 118.6M740.1 110.3L732.9 118.6L743.9 119.2M772.6 109.4L750.2 119.4M757.6 110.6L750.2 119.4L761.7 119.8M790.8 109.4L769.7 119.5M776.5 110.9L769.7 119.5L780.7 119.5M663.5 127.6L644.0 133.4M651.0 126.9L644.0 133.4L653.4 135.0M681.7 127.6L663.1 134.3M669.6 127.6L663.1 134.3L672.4 135.3M699.9 127.6L681.8 134.4M688.0 127.8L681.8 134.4L690.8 135.2M718.1 127.6L700.1 134.6M706.2 127.9L700.1 134.6L709.1 135.3M736.2 127.6L717.7 135.0M724.0 128.1L717.7 135.0L727.1 135.7M754.4 127.6L734.9 135.6M741.5 128.2L734.9 135.6L744.8 136.2M772.6 127.6L752.1 136.1M759.0 128.3L752.1 136.1L762.5 136.7M790.8 127.6L770.3 136.3M777.1 128.4L770.3 136.3L780.7 136.8M645.4 145.7L624.6 151.4M632.2 144.7L624.6 151.4L634.5 153.3M663.5 145.7L644.4 152.8M651.0 145.8L644.4 152.8L653.9 153.7M681.7 145.7L663.6 152.5M669.9 145.9L663.6 152.5L672.7 153.4M699.9 145.7L682.3 152.6M688.3 146.0L682.3 152.6L691.1 153.3M718.1 145.7L700.5 152.8M706.5 146.2L700.5 152.8L709.4 153.4M736.2 145.7L718.3 153.0M724.4 146.3L718.3 153.0L727.4 153.6M754.4 145.7L735.5 153.4M741.9 146.3L735.5 153.4L745.1 154.1M772.6 145.7L752.7 153.9M759.4 146.4L752.7 153.9L762.8 154.6M790.8 145.7L770.9 154.0M777.6 146.4L770.9 154.0L781.0 154.6M645.4 163.9L623.4 172.0M631.0 164.1L623.4 172.0L634.4 173.1M663.5 163.9L644.5 171.3M651.0 164.3L644.5 171.3L654.1 172.1M681.7 163.9L663.7 170.9M669.9 164.2L663.7 170.9L672.7 171.7M699.9 163.9L682.4 170.8M688.4 164.3L682.4 170.8L691.2 171.5M718.1 163.9L700.7 171.0M706.6 164.4L700.7 171.0L709.5 171.6M736.2 163.9L718.7 171.1M724.7 164.4L718.7 171.1L727.6 171.7M754.4 163.9L736.1 171.4M742.3 164.4L736.1 171.4L745.4 172.0M772.6 163.9L753.1 171.8M759.7 164.4L753.1 171.8L762.9 172.5M790.8 163.9L771.3 171.9M777.9 164.5L771.3 171.9L781.2 172.6M627.2 182.1L605.3 190.2M612.9 182.3L605.3 190.2L616.2 191.3M645.4 182.1L625.4 190.1M632.2 182.6L625.4 190.1L635.5 190.8M663.5 182.1L644.6 189.7M651.0 182.6L644.6 189.7L654.2 190.4M681.7 182.1L664.2 189.1M670.1 182.5L664.2 189.1L673.0 189.8M699.9 182.1L682.8 189.0M688.6 182.6L682.8 189.0L691.4 189.6M718.1 182.1L701.0 189.2M706.7 182.7L701.0 189.2L709.7 189.7M736.2 182.1L719.2 189.1M724.9 182.6L719.2 189.1L727.8 189.7M754.4 182.1L736.9 189.3M742.8 182.6L736.9 189.3L745.8 189.8M772.6 182.1L753.7 189.8M760.1 182.6L753.7 189.8L763.3 190.4M790.8 182.1L771.8 189.7M778.3 182.6L771.8 189.7L781.4 190.4M609.0 200.3L586.8 208.6M594.5 200.5L586.8 208.6L597.9 209.6M627.2 200.3L606.4 209.3M613.3 201.2L606.4 209.3L617.1 209.7M645.4 200.3L626.6 208.3M632.9 201.0L626.6 208.3L636.2 208.8M663.5 200.3L645.7 207.7M651.7 200.9L645.7 207.7L654.8 208.2M681.7 200.3L664.2 207.5M670.1 200.8L664.2 207.5L673.1 208.0M699.9 200.3L683.1 207.2M688.7 200.8L683.1 207.2L691.6 207.8M718.1 200.3L701.3 207.3M706.9 200.9L701.3 207.3L709.8 207.8M736.2 200.3L719.6 207.2M725.2 200.8L719.6 207.2L728.0 207.7M754.4 200.3L737.6 207.3M743.3 200.9L737.6 207.3L746.2 207.8M772.6 200.3L754.8 207.8M760.8 201.0L754.8 207.8L763.9 208.3M790.8 200.3L772.0 208.4M778.3 201.1L772.0 208.4L781.6 208.8M590.8 218.4L569.0 226.6M576.5 218.7L569.0 226.6L579.9 227.7M609.0 218.4L589.5 227.5M595.9 219.7L589.5 227.5L599.6 227.7M627.2 218.4L608.8 226.8M614.8 219.5L608.8 226.8L618.3 227.1M645.4 218.4L627.9 226.3M633.7 219.4L627.9 226.3L636.9 226.6M663.5 218.4L646.2 226.1M652.0 219.3L646.2 226.1L655.1 226.4M681.7 218.4L664.4 225.9M670.1 219.2L664.4 225.9L673.2 226.3M699.9 218.4L682.5 225.8M688.3 219.1L682.5 225.8L691.4 226.3M718.1 218.4L700.7 225.9M706.5 219.2L700.7 225.9L709.6 226.3M736.2 218.4L718.9 226.1M724.7 219.3L718.9 226.1L727.8 226.4M754.4 218.4L737.2 226.2M742.9 219.4L737.2 226.2L746.1 226.5M772.6 218.4L754.8 226.6M760.6 219.5L754.8 226.6L764.0 226.8M790.8 218.4L772.1 227.2M778.2 219.6L772.1 227.2L781.8 227.3M572.7 236.6L556.1 242.6M561.9 236.6L556.1 242.6L564.3 243.5M590.8 236.6L572.6 244.7M578.6 237.5L572.6 244.7L582.0 245.1M609.0 236.6L592.1 244.5M597.6 237.7L592.1 244.5L600.9 244.6M627.2 236.6L610.3 244.4M615.8 237.6L610.3 244.4L619.0 244.6M645.4 236.6L628.4 244.2M634.0 237.5L628.4 244.2L637.1 244.5M663.5 236.6L646.6 244.3M652.2 237.6L646.6 244.3L655.3 244.6M681.7 236.6L664.7 244.7M670.2 237.8L664.7 244.7L673.5 244.8M699.9 236.6L683.0 245.0M688.4 238.0L683.0 245.0L691.9 245.0M718.1 236.6L701.3 245.3M706.6 238.1L701.3 245.3L710.1 245.1M736.2 236.6L719.5 245.5M724.8 238.3L719.5 245.5L728.4 245.2M754.4 236.6L737.8 245.7M743.0 238.4L737.8 245.7L746.7 245.3M772.6 236.6L755.5 246.2M760.8 238.6L755.5 246.2L764.7 245.7M790.8 236.6L773.6 246.5M778.8 238.8L773.6 246.5L782.9 245.8M554.5 254.8L538.7 260.1M544.3 254.6L538.7 260.1L546.5 261.1M572.7 254.8L555.7 262.0M561.4 255.5L555.7 262.0L564.3 262.5M590.8 254.8L574.7 262.0M580.1 255.6L574.7 262.0L583.0 262.2M609.0 254.8L593.7 261.9M598.7 255.8L593.7 261.9L601.6 262.1M627.2 254.8L611.7 262.3M616.7 256.0L611.7 262.3L619.8 262.3M645.4 254.8L629.5 262.9M634.6 256.2L629.5 262.9L637.9 262.7M663.5 254.8L647.5 263.3M652.5 256.4L647.5 263.3L656.0 263.0M681.7 254.8L665.2 264.0M670.3 256.7L665.2 264.0L674.1 263.5M699.9 254.8L683.5 264.2M688.5 256.9L683.5 264.2L692.4 263.6M718.1 254.8L701.8 264.4M706.7 257.0L701.8 264.4L710.6 263.7M736.2 254.8L720.1 264.6M724.9 257.1L720.1 264.6L728.9 263.8M754.4 254.8L738.3 264.7M743.1 257.2L738.3 264.7L747.2 263.8M772.6 254.8L756.3 265.1M761.0 257.4L756.3 265.1L765.3 264.1M790.8 254.8L774.5 265.3M779.2 257.5L774.5 265.3L783.6 264.2M209.2 273.0L203.9 261.6M208.4 265.3L203.9 261.6L203.8 267.5M554.5 273.0L536.0 280.4M542.2 273.5L536.0 280.4L545.3 281.1M572.7 273.0L556.7 279.8M562.1 273.6L556.7 279.8L564.9 280.2M590.8 273.0L575.8 280.0M580.7 273.9L575.8 280.0L583.6 280.1M609.0 273.0L594.5 280.5M599.1 274.3L594.5 280.5L602.2 280.3M627.2 273.0L612.8 280.8M617.3 274.5L612.8 280.8L620.5 280.4M645.4 273.0L630.8 281.2M635.2 274.7L630.8 281.2L638.6 280.7M663.5 273.0L648.4 281.9M652.9 275.0L648.4 281.9L656.6 281.3M681.7 273.0L666.0 282.6M670.6 275.3L666.0 282.6L674.6 281.8M699.9 273.0L684.1 283.1M688.7 275.6L684.1 283.1L692.8 282.1M718.1 273.0L702.3 283.2M706.9 275.6L702.3 283.2L711.1 282.1M736.2 273.0L720.6 283.3M725.1 275.7L720.6 283.3L729.3 282.1M754.4 273.0L738.8 283.4M743.3 275.8L738.8 283.4L747.6 282.2M772.6 273.0L757.1 283.6M761.5 275.9L757.1 283.6L765.8 282.3M790.8 273.0L775.4 283.7M779.7 276.0L775.4 283.7L784.1 282.3M209.2 291.1L202.5 281.6M207.3 284.3L202.5 281.6L203.4 287.0M227.3 291.1L221.2 283.2M225.4 285.3L221.2 283.2L222.2 287.8M245.5 291.1L239.0 283.4M243.4 285.4L239.0 283.4L240.2 288.0M263.7 291.1L258.7 282.4M262.6 285.1L258.7 282.4L259.0 287.1M281.9 291.1L278.2 281.1M281.8 284.6L278.2 281.1L277.7 286.1M536.3 291.1L519.4 297.8M525.2 291.5L519.4 297.8L527.9 298.5M554.5 291.1L538.5 297.9M543.9 291.8L538.5 297.9L546.7 298.3M572.7 291.1L557.5 298.3M562.4 292.2L557.5 298.3L565.4 298.4M590.8 291.1L576.4 298.7M580.9 292.5L576.4 298.7L584.0 298.5M609.0 291.1L595.6 298.9M599.7 292.8L595.6 298.9L602.9 298.4M627.2 291.1L613.5 299.3M617.6 293.1L613.5 299.3L621.0 298.7M645.4 291.1L631.5 299.8M635.6 293.3L631.5 299.8L639.1 299.0M663.5 291.1L649.1 300.5M653.3 293.6L649.1 300.5L657.1 299.5M681.7 291.1L666.9 301.5M671.0 294.1L666.9 301.5L675.3 300.2M699.9 291.1L684.7 301.9M688.9 294.2L684.7 301.9L693.3 300.5M718.1 291.1L702.9 302.0M707.1 294.3L702.9 302.0L711.5 300.5M736.2 291.1L721.1 302.0M725.3 294.3L721.1 302.0L729.8 300.5M754.4 291.1L739.4 302.1M743.5 294.4L739.4 302.1L748.0 300.6M772.6 291.1L757.6 302.2M761.7 294.5L757.6 302.2L766.2 300.6M790.8 291.1L775.9 302.3M779.9 294.5L775.9 302.3L784.5 300.7M227.3 309.3L221.7 307.3M224.5 307.0L221.7 307.3L223.7 309.3M245.5 309.3L239.1 307.6M242.2 307.0L239.1 307.6L241.5 309.6M263.7 309.3L258.8 302.3M262.3 304.3L258.8 302.3L259.4 306.3M281.9 309.3L275.5 300.3M280.1 302.8L275.5 300.3L276.3 305.4M300.0 309.3L292.4 299.4M297.7 302.0L292.4 299.4L293.6 305.1M318.2 309.3L310.5 300.1M315.7 302.4L310.5 300.1L311.9 305.6M500.0 309.3L480.4 315.2M487.5 308.7L480.4 315.2L489.9 316.7M518.1 309.3L500.5 316.0M506.5 309.5L500.5 316.0L509.3 316.8M536.3 309.3L523.1 315.0M527.5 309.9L523.1 315.0L529.8 315.3M554.5 309.3L543.0 315.0M546.7 310.3L543.0 315.0L549.0 315.0M572.7 309.3L560.5 315.8M564.3 310.6L560.5 315.8L567.0 315.6M590.8 309.3L578.2 316.7M582.0 311.0L578.2 316.7L585.0 316.2M609.0 309.3L596.2 317.5M599.9 311.4L596.2 317.5L603.3 316.7M627.2 309.3L614.6 317.7M618.2 311.5L614.6 317.7L621.6 316.7M645.4 309.3L632.3 318.4M635.9 311.9L632.3 318.4L639.7 317.3M663.5 309.3L650.1 319.3M653.7 312.3L650.1 319.3L657.8 317.9M681.7 309.3L667.8 320.1M671.4 312.7L667.8 320.1L675.9 318.4M699.9 309.3L685.7 320.4M689.4 312.8L685.7 320.4L694.0 318.7M718.1 309.3L703.9 320.5M707.6 312.8L703.9 320.5L712.2 318.7M736.2 309.3L722.1 320.6M725.8 312.9L722.1 320.6L730.4 318.7M754.4 309.3L740.3 320.6M744.0 312.9L740.3 320.6L748.6 318.7M772.6 309.3L758.6 320.7M762.2 313.0L758.6 320.7L766.8 318.8M790.8 309.3L776.8 320.8M780.4 313.1L776.8 320.8L785.1 318.8M263.7 327.5L258.5 324.5M261.3 324.7L258.5 324.5L260.1 326.8M281.9 327.5L274.2 321.6M278.7 322.5L274.2 321.6L276.3 325.7M300.0 327.5L291.2 318.6M296.7 320.5L291.2 318.6L293.1 324.2M318.2 327.5L307.6 318.6M313.9 320.2L307.6 318.6L310.3 324.5M336.4 327.5L324.3 319.0M331.1 320.1L324.3 319.0L327.7 325.1M354.6 327.5L341.3 319.8M348.5 320.3L341.3 319.8L345.3 325.8M372.7 327.5L357.9 320.6M365.6 320.4L357.9 320.6L362.8 326.5M390.9 327.5L373.9 322.9M382.0 321.3L373.9 322.9L380.1 328.4M409.1 327.5L389.8 325.8M398.3 322.5L389.8 325.8L397.6 330.5M427.3 327.5L407.9 328.0M416.0 323.8L407.9 328.0L416.2 331.8M445.4 327.5L427.1 330.1M434.3 325.2L427.1 330.1L435.4 332.7M463.6 327.5L445.5 331.3M452.4 326.0L445.5 331.3L454.0 333.4M481.8 327.5L461.5 333.3M468.9 326.7L461.5 333.3L471.3 335.0M500.0 327.5L481.8 334.1M488.1 327.6L481.8 334.1L490.8 335.0M518.1 327.5L504.1 333.6M508.8 328.1L504.1 333.6L511.3 333.9M536.3 327.5L525.1 333.1M528.7 328.4L525.1 333.1L531.0 333.0M554.5 327.5L543.4 333.9M546.8 328.9L543.4 333.9L549.4 333.5M572.7 327.5L561.3 334.5M564.6 329.2L561.3 334.5L567.5 333.9M590.8 327.5L579.4 335.0M582.7 329.5L579.4 335.0L585.8 334.2M609.0 327.5L598.1 335.2M601.1 329.7L598.1 335.2L604.3 334.2M627.2 327.5L616.2 335.6M619.2 329.9L616.2 335.6L622.5 334.5M645.4 327.5L633.5 336.9M636.6 330.5L633.5 336.9L640.4 335.4M663.5 327.5L651.2 337.8M654.3 330.9L651.2 337.8L658.6 336.0M681.7 327.5L668.7 338.5M671.9 331.2L668.7 338.5L676.5 336.5M699.9 327.5L686.6 338.9M689.9 331.3L686.6 338.9L694.6 336.8M718.1 327.5L704.8 338.9M708.1 331.4L704.8 338.9L712.8 336.8M736.2 327.5L723.1 339.0M726.3 331.4L723.1 339.0L731.0 336.8M754.4 327.5L741.3 339.1M744.5 331.5L741.3 339.1L749.2 336.9M772.6 327.5L759.7 338.9M762.8 331.5L759.7 338.9L767.5 336.7M790.8 327.5L778.0 339.0M781.0 331.5L778.0 339.0L785.8 336.8M300.0 345.7L291.9 338.8M296.7 340.0L291.9 338.8L293.9 343.4M318.2 345.7L308.5 338.6M314.1 339.6L308.5 338.6L311.2 343.6M336.4 345.7L325.4 338.8M331.5 339.5L325.4 338.8L328.7 344.0M354.6 345.7L342.1 339.6M348.6 339.6L342.1 339.6L346.1 344.7M372.7 345.7L357.6 340.2M365.1 339.4L357.6 340.2L362.9 345.6M390.9 345.7L373.0 342.5M381.2 340.1L373.0 342.5L379.9 347.5M409.1 345.7L388.9 348.5M396.8 343.1L388.9 348.5L398.0 351.5M427.3 345.7L407.3 351.0M414.7 344.6L407.3 351.0L416.9 352.9M445.4 345.7L426.9 351.2M433.6 345.0L426.9 351.2L435.9 352.7M463.6 345.7L446.7 351.2M452.7 345.4L446.7 351.2L455.0 352.3M481.8 345.7L465.5 351.6M471.2 345.7L465.5 351.6L473.6 352.4M500.0 345.7L484.9 352.3M489.9 346.4L484.9 352.3L492.6 352.6M518.1 345.7L505.0 351.4M509.3 346.3L505.0 351.4L511.7 351.7M536.3 345.7L524.5 350.8M528.4 346.2L524.5 350.8L530.6 351.1M554.5 345.7L542.8 350.9M546.7 346.3L542.8 350.9L548.8 351.1M572.7 345.7L561.8 351.8M565.1 346.9L561.8 351.8L567.6 351.4M590.8 345.7L580.8 352.6M583.6 347.6L580.8 352.6L586.5 351.8M609.0 345.7L599.5 353.7M601.9 348.3L599.5 353.7L605.2 352.2M627.2 345.7L617.3 354.0M619.8 348.4L617.3 354.0L623.2 352.5M645.4 345.7L634.3 355.2M637.0 348.9L634.3 355.2L641.0 353.4M663.5 345.7L651.8 356.4M654.5 349.5L651.8 356.4L659.0 354.3M681.7 345.7L669.5 356.9M672.3 349.6L669.5 356.9L677.0 354.7M699.9 345.7L687.5 357.2M690.4 349.8L687.5 357.2L695.1 354.9M718.1 345.7L705.7 357.2M708.6 349.8L705.7 357.2L713.3 354.9M736.2 345.7L724.0 357.3M726.8 349.9L724.0 357.3L731.5 354.9M754.4 345.7L742.2 357.4M744.9 349.9L742.2 357.4L749.8 354.9M772.6 345.7L760.4 357.4M763.1 349.9L760.4 357.4L768.0 354.9M790.8 345.7L778.5 357.3M781.3 349.9L778.5 357.3L786.1 354.9M300.0 363.8L291.9 359.1M296.3 359.5L291.9 359.1L294.4 362.8M318.2 363.8L309.3 359.2M314.0 359.3L309.3 359.2L312.1 363.0M336.4 363.8L326.7 359.3M331.7 359.2L326.7 359.3L329.9 363.2M354.6 363.8L344.1 360.4M349.2 359.7L344.1 360.4L347.8 364.0M372.7 363.8L360.5 361.3M366.2 359.8L360.5 361.3L365.1 364.9M390.9 363.8L376.2 362.6M382.7 360.1L376.2 362.6L382.2 366.1M409.1 363.8L394.2 369.9M399.2 364.2L394.2 369.9L401.7 370.4M427.3 363.8L412.5 370.2M417.4 364.5L412.5 370.2L420.1 370.6M445.4 363.8L430.6 370.7M435.5 364.8L430.6 370.7L438.3 370.9M463.6 363.8L449.2 371.0M453.8 365.0L449.2 371.0L456.8 370.9M481.8 363.8L468.3 371.0M472.5 365.2L468.3 371.0L475.5 370.8M500.0 363.8L487.2 370.5M491.2 365.1L487.2 370.5L494.0 370.3M518.1 363.8L505.9 370.2M509.7 365.0L505.9 370.2L512.4 370.1M536.3 363.8L524.8 369.7M528.5 364.9L524.8 369.7L530.9 369.6M554.5 363.8L543.1 369.7M546.7 364.8L543.1 369.7L549.1 369.6M572.7 363.8L562.7 370.3M565.6 365.5L562.7 370.3L568.2 369.6M590.8 363.8L581.9 371.1M584.2 366.2L581.9 371.1L587.2 369.9M609.0 363.8L600.3 372.5M602.2 367.1L600.3 372.5L605.8 370.6M627.2 363.8L618.1 373.0M620.0 367.2L618.1 373.0L623.8 371.0M645.4 363.8L635.1 374.1M637.3 367.7L635.1 374.1L641.5 371.9M663.5 363.8L652.3 375.1M654.7 368.0L652.3 375.1L659.4 372.7M681.7 363.8L670.1 375.5M672.6 368.2L670.1 375.5L677.4 373.0M699.9 363.8L688.3 375.6M690.8 368.2L688.3 375.6L695.6 373.0M718.1 363.8L706.5 375.6M709.0 368.3L706.5 375.6L713.8 373.0M736.2 363.8L724.8 375.7M727.2 368.3L724.8 375.7L732.0 373.0M754.4 363.8L742.9 375.7M745.3 368.3L742.9 375.7L750.2 373.0M772.6 363.8L761.0 375.6M763.5 368.2L761.0 375.6L768.3 373.0M790.8 363.8L779.1 375.5M781.6 368.2L779.1 375.5L786.4 373.0M281.9 382.0L272.5 381.2M276.6 379.6L272.5 381.2L276.3 383.5M300.0 382.0L291.6 381.4M295.3 379.9L291.6 381.4L295.0 383.4M318.2 382.0L309.7 381.6M313.4 380.0L309.7 381.6L313.2 383.5M336.4 382.0L327.4 381.7M331.3 380.0L327.4 381.7L331.2 383.7M354.6 382.0L345.2 381.9M349.2 380.0L345.2 381.9L349.1 383.9M372.7 382.0L362.1 382.1M366.5 379.9L362.1 382.1L366.6 384.3M390.9 382.0L378.9 382.4M383.9 379.8L378.9 382.4L384.1 384.7M409.1 382.0L395.8 385.6M400.7 381.3L395.8 385.6L402.2 386.8M427.3 382.0L413.8 386.8M418.5 382.0L413.8 386.8L420.5 387.6M445.4 382.0L432.1 388.1M436.5 382.8L432.1 388.1L439.0 388.3M463.6 382.0L450.8 389.2M454.7 383.5L450.8 389.2L457.7 388.8M481.8 382.0L469.9 390.0M473.3 384.2L469.9 390.0L476.6 389.1M500.0 382.0L488.2 389.8M491.6 384.1L488.2 389.8L494.8 388.9M518.1 382.0L506.6 389.5M509.9 384.0L506.6 389.5L513.0 388.7M536.3 382.0L525.1 389.2M528.3 383.9L525.1 389.2L531.3 388.5M554.5 382.0L543.7 388.9M546.8 383.8L543.7 388.9L549.7 388.2M572.7 382.0L562.7 387.8M565.7 383.3L562.7 387.8L568.1 387.4M590.8 382.0L582.4 389.1M584.5 384.4L582.4 389.1L587.4 387.8M609.0 382.0L601.1 391.4M602.5 385.8L601.1 391.4L606.4 389.1M627.2 382.0L618.9 391.9M620.4 386.0L618.9 391.9L624.4 389.4M645.4 382.0L635.9 393.1M637.6 386.5L635.9 393.1L642.2 390.4M663.5 382.0L653.1 393.8M655.1 386.7L653.1 393.8L659.9 391.0M681.7 382.0L670.8 394.0M672.9 386.7L670.8 394.0L677.9 391.2M699.9 382.0L689.0 394.0M691.1 386.7L689.0 394.0L696.0 391.2M718.1 382.0L707.2 394.0M709.3 386.7L707.2 394.0L714.3 391.2M736.2 382.0L725.3 394.0M727.5 386.7L725.3 394.0L732.4 391.2M754.4 382.0L743.5 394.0M745.6 386.7L743.5 394.0L750.6 391.2M772.6 382.0L761.6 394.0M763.8 386.7L761.6 394.0L768.7 391.2M790.8 382.0L779.8 394.0M782.0 386.7L779.8 394.0L786.9 391.2M281.9 400.2L276.7 400.6M278.8 399.4L276.7 400.6L279.0 401.5M300.0 400.2L296.2 401.0M297.7 399.9L296.2 401.0L298.0 401.4M318.2 400.2L314.9 401.3M316.1 400.2L314.9 401.3L316.5 401.5M336.4 400.2L332.9 400.8M334.3 399.8L332.9 400.8L334.5 401.2M354.6 400.2L348.8 401.9M350.9 400.0L348.8 401.9L351.6 402.4M372.7 400.2L365.8 403.2M368.1 400.5L365.8 403.2L369.3 403.4M390.9 400.2L382.4 405.1M385.0 401.3L382.4 405.1L387.0 404.8M409.1 400.2L400.0 407.8M402.3 402.7L400.0 407.8L405.4 406.5M427.3 400.2L417.7 408.2M420.1 402.8L417.7 408.2L423.4 406.8M445.4 400.2L435.6 408.4M438.1 402.9L435.6 408.4L441.5 407.0M463.6 400.2L453.8 408.4M456.2 402.9L453.8 408.4L459.6 407.0M481.8 400.2L472.0 408.4M474.4 402.9L472.0 408.4L477.8 407.0M500.0 400.2L489.6 408.7M492.3 403.0L489.6 408.7L495.8 407.2M518.1 400.2L507.7 408.6M510.4 402.9L507.7 408.6L513.9 407.2M536.3 400.2L526.3 408.2M528.9 402.7L526.3 408.2L532.2 406.9M554.5 400.2L545.1 407.5M547.6 402.5L545.1 407.5L550.6 406.3M572.7 400.2L564.7 407.8M566.5 402.9L564.7 407.8L569.6 406.2M590.8 400.2L583.9 408.2M585.2 403.4L583.9 408.2L588.5 406.3M609.0 400.2L601.9 410.4M602.8 404.6L601.9 410.4L607.0 407.5M627.2 400.2L619.6 410.6M620.7 404.7L619.6 410.6L625.0 407.8M645.4 400.2L636.7 411.7M638.0 405.0L636.7 411.7L642.7 408.6M663.5 400.2L654.0 412.4M655.5 405.3L654.0 412.4L660.5 409.2M681.7 400.2L671.7 412.6M673.4 405.3L671.7 412.6L678.5 409.4M699.9 400.2L689.7 412.4M691.5 405.1L689.7 412.4L696.5 409.3M718.1 400.2L707.8 412.4M709.6 405.1L707.8 412.4L714.7 409.3M736.2 400.2L726.0 412.4M727.8 405.1L726.0 412.4L732.8 409.3M754.4 400.2L744.2 412.4M746.0 405.1L744.2 412.4L751.0 409.3M772.6 400.2L762.4 412.4M764.2 405.1L762.4 412.4L769.2 409.3M790.8 400.2L780.5 412.4M782.3 405.1L780.5 412.4L787.4 409.3M300.0 418.4L296.1 421.7M297.1 419.5L296.1 421.7L298.4 421.1M318.2 418.4L313.9 421.1M315.1 419.1L313.9 421.1L316.3 420.9M336.4 418.4L331.7 420.5M333.2 418.6L331.7 420.5L334.1 420.6M354.6 418.4L351.3 420.5M352.2 418.9L351.3 420.5L353.1 420.3M372.7 418.4L368.8 421.7M369.8 419.5L368.8 421.7L371.1 421.1M390.9 418.4L384.4 423.8M386.0 420.2L384.4 423.8L388.3 422.9M409.1 418.4L401.3 426.1M403.0 421.2L401.3 426.1L406.2 424.4M427.3 418.4L419.1 426.5M420.9 421.4L419.1 426.5L424.2 424.7M445.4 418.4L437.0 426.8M438.8 421.5L437.0 426.8L442.3 425.0M463.6 418.4L454.9 427.0M456.8 421.6L454.9 427.0L460.4 425.2M481.8 418.4L473.0 427.2M474.9 421.6L473.0 427.2L478.5 425.3M500.0 418.4L491.1 427.6M492.9 421.9L491.1 427.6L496.8 425.5M518.1 418.4L509.5 427.8M511.2 422.0L509.5 427.8L515.1 425.6M536.3 418.4L527.8 427.5M529.5 421.9L527.8 427.5L533.3 425.4M554.5 418.4L546.3 427.0M548.0 421.7L546.3 427.0L551.5 425.0M572.7 418.4L565.9 427.0M567.0 422.0L565.9 427.0L570.6 424.7M590.8 418.4L585.0 427.2M585.7 422.3L585.0 427.2L589.3 424.7M609.0 418.4L602.8 429.1M603.2 423.3L602.8 429.1L607.6 425.9M627.2 418.4L620.2 429.2M620.9 423.2L620.2 429.2L625.4 426.1M645.4 418.4L637.4 429.7M638.4 423.2L637.4 429.7L643.1 426.5M663.5 418.4L654.7 430.1M656.0 423.3L654.7 430.1L660.8 427.0M681.7 418.4L672.2 430.5M673.7 423.4L672.2 430.5L678.7 427.3M699.9 418.4L690.1 430.5M691.7 423.3L690.1 430.5L696.7 427.4M718.1 418.4L708.4 430.6M710.0 423.4L708.4 430.6L715.0 427.4M736.2 418.4L726.7 430.7M728.2 423.5L726.7 430.7L733.3 427.4M754.4 418.4L744.9 430.7M746.4 423.5L744.9 430.7L751.5 427.5M772.6 418.4L763.1 430.7M764.6 423.5L763.1 430.7L769.7 427.5M790.8 418.4L781.3 430.7M782.7 423.5L781.3 430.7L787.8 427.5M336.4 436.5L331.1 441.0M332.4 438.0L331.1 441.0L334.3 440.2M354.6 436.5L351.9 439.4M352.4 437.7L351.9 439.4L353.6 438.8M372.7 436.5L370.5 439.0M370.9 437.5L370.5 439.0L371.9 438.4M390.9 436.5L386.3 441.8M387.2 438.6L386.3 441.8L389.3 440.5M409.1 436.5L402.7 444.2M403.8 439.6L402.7 444.2L407.0 442.3M427.3 436.5L420.5 444.7M421.7 439.8L420.5 444.7L425.0 442.6M445.4 436.5L438.4 444.9M439.6 439.9L438.4 444.9L443.1 442.8M463.6 436.5L456.2 445.4M457.5 440.1L456.2 445.4L461.2 443.2M481.8 436.5L474.1 445.6M475.5 440.2L474.1 445.6L479.3 443.4M500.0 436.5L492.5 445.8M493.8 440.4L492.5 445.8L497.6 443.4M518.1 436.5L510.9 446.0M512.0 440.5L510.9 446.0L515.9 443.5M536.3 436.5L529.5 445.8M530.5 440.5L529.5 445.8L534.3 443.3M554.5 436.5L548.2 445.5M549.0 440.4L548.2 445.5L552.7 443.0M572.7 436.5L566.9 445.9M567.4 440.7L566.9 445.9L571.3 443.1M590.8 436.5L585.6 446.2M585.8 441.0L585.6 446.2L589.8 443.2M609.0 436.5L603.6 448.2M603.5 442.1L603.6 448.2L608.3 444.4M627.2 436.5L621.2 448.0M621.4 441.9L621.2 448.0L626.1 444.4M645.4 436.5L638.4 448.5M638.9 442.0L638.4 448.5L643.8 444.9M663.5 436.5L655.5 448.9M656.4 442.1L655.5 448.9L661.5 445.3M681.7 436.5L672.9 448.9M674.1 441.9L672.9 448.9L679.2 445.5M699.9 436.5L690.5 448.5M692.0 441.5L690.5 448.5L696.9 445.4M718.1 436.5L708.8 448.6M710.2 441.6L708.8 448.6L715.2 445.4M736.2 436.5L727.1 448.7M728.5 441.7L727.1 448.7L733.5 445.5M754.4 436.5L745.4 448.8M746.7 441.8L745.4 448.8L751.8 445.5M772.6 436.5L763.7 448.9M764.9 441.9L763.7 448.9L770.0 445.5M790.8 436.5L782.0 449.0M783.2 441.9L782.0 449.0L788.3 445.5M336.4 454.7L331.3 462.0M331.9 457.9L331.3 462.0L334.9 460.0M354.6 454.7L351.1 459.6M351.6 456.8L351.1 459.6L353.6 458.3M372.7 454.7L370.8 457.4M371.1 455.9L370.8 457.4L372.2 456.7M390.9 454.7L387.5 459.7M387.9 456.9L387.5 459.7L390.0 458.3M409.1 454.7L403.8 462.6M404.4 458.2L403.8 462.6L407.6 460.4M427.3 454.7L421.7 463.0M422.4 458.3L421.7 463.0L425.7 460.6M445.4 454.7L439.5 463.5M440.2 458.6L439.5 463.5L443.8 461.0M463.6 454.7L457.5 463.8M458.2 458.7L457.5 463.8L461.9 461.2M481.8 454.7L475.4 464.1M476.2 458.8L475.4 464.1L480.1 461.4M500.0 454.7L493.9 464.3M494.5 459.0L493.9 464.3L498.4 461.5M518.1 454.7L512.5 464.1M512.9 459.0L512.5 464.1L516.8 461.3M536.3 454.7L531.2 463.7M531.5 458.9L531.2 463.7L535.2 461.0M554.5 454.7L550.0 463.0M550.2 458.6L550.0 463.0L553.6 460.4M572.7 454.7L568.3 464.0M568.2 459.2L568.3 464.0L572.1 461.0M590.8 454.7L586.6 465.1M586.2 459.8L586.6 465.1L590.5 461.6M609.0 454.7L604.5 467.0M603.9 460.9L604.5 467.0L609.0 462.7M627.2 454.7L622.1 467.0M621.7 460.7L622.1 467.0L626.8 462.8M645.4 454.7L639.5 467.2M639.4 460.7L639.5 467.2L644.5 463.2M663.5 454.7L656.6 467.7M656.8 460.8L656.6 467.7L662.2 463.7M681.7 454.7L673.9 467.4M674.6 460.4L673.9 467.4L679.8 463.6M699.9 454.7L691.4 466.9M692.5 460.0L691.4 466.9L697.5 463.5M718.1 454.7L709.7 467.0M710.7 460.1L709.7 467.0L715.7 463.5M736.2 454.7L728.0 467.1M728.9 460.1L728.0 467.1L734.0 463.5M754.4 454.7L746.3 467.2M747.2 460.2L746.3 467.2L752.3 463.6M772.6 454.7L764.7 467.3M765.4 460.3L764.7 467.3L770.6 463.6M790.8 454.7L783.0 467.4M783.7 460.4L783.0 467.4L788.9 463.6M336.4 472.9L330.9 482.5M331.2 477.3L330.9 482.5L335.2 479.6M354.6 472.9L350.8 481.0M350.7 476.8L350.8 481.0L354.0 478.3M372.7 472.9L370.6 477.6M370.5 475.1L370.6 477.6L372.4 476.0M390.9 472.9L388.2 478.3M388.3 475.4L388.2 478.3L390.5 476.5M409.1 472.9L404.7 481.1M404.9 476.7L404.7 481.1L408.3 478.5M427.3 472.9L422.8 481.3M423.0 476.8L422.8 481.3L426.4 478.7M445.4 472.9L440.8 481.7M440.9 477.0L440.8 481.7L444.6 478.9M463.6 472.9L458.6 482.2M458.8 477.3L458.6 482.2L462.7 479.3M481.8 472.9L476.6 482.6M476.8 477.4L476.6 482.6L480.8 479.5M500.0 472.9L495.1 482.7M495.1 477.5L495.1 482.7L499.2 479.6M518.1 472.9L513.7 482.5M513.6 477.5L513.7 482.5L517.5 479.4M536.3 472.9L532.3 482.0M532.1 477.3L532.3 482.0L535.9 479.0M554.5 472.9L551.1 481.2M550.8 477.0L551.1 481.2L554.3 478.4M572.7 472.9L569.3 482.4M568.8 477.7L569.3 482.4L572.7 479.1M590.8 472.9L587.4 484.0M586.6 478.6L587.4 484.0L591.1 480.0M609.0 472.9L605.5 485.9M604.3 479.7L605.5 485.9L609.7 481.1M627.2 472.9L622.9 485.7M622.1 479.4L622.9 485.7L627.4 481.1M645.4 472.9L640.2 485.7M639.8 479.2L640.2 485.7L645.0 481.4M663.5 472.9L657.4 485.9M657.3 479.1L657.4 485.9L662.7 481.7M681.7 472.9L674.8 485.6M675.1 478.8L674.8 485.6L680.3 481.7M699.9 472.9L692.2 485.2M692.9 478.4L692.2 485.2L698.0 481.6M718.1 472.9L710.6 485.3M711.2 478.5L710.6 485.3L716.3 481.6M736.2 472.9L728.9 485.4M729.4 478.6L728.9 485.4L734.6 481.6M754.4 472.9L747.3 485.5M747.7 478.7L747.3 485.5L752.9 481.6M772.6 472.9L765.6 485.6M765.9 478.8L765.6 485.6L771.2 481.7M790.8 472.9L784.0 485.7M784.2 478.9L784.0 485.7L789.5 481.7M318.2 491.1L312.2 499.1M313.1 494.5L312.2 499.1L316.4 497.0M336.4 491.1L331.3 501.9M331.2 496.3L331.3 501.9L335.7 498.4M354.6 491.1L351.1 500.5M350.6 495.8L351.1 500.5L354.5 497.2M372.7 491.1L370.8 498.4M370.1 494.9L370.8 498.4L373.1 495.7M390.9 491.1L388.9 498.3M388.2 494.8L388.9 498.3L391.2 495.7M409.1 491.1L406.4 500.2M405.7 495.8L406.4 500.2L409.4 496.9M427.3 491.1L424.4 500.1M423.8 495.7L424.4 500.1L427.5 496.9M445.4 491.1L442.4 500.5M441.7 495.9L442.4 500.5L445.6 497.2M463.6 491.1L460.3 501.1M459.6 496.2L460.3 501.1L463.8 497.6M481.8 491.1L478.4 501.5M477.7 496.4L478.4 501.5L482.0 497.8M500.0 491.1L496.8 501.6M496.0 496.5L496.8 501.6L500.3 497.8M518.1 491.1L515.4 501.3M514.4 496.4L515.4 501.3L518.7 497.5M536.3 491.1L533.8 500.7M532.9 496.1L533.8 500.7L536.8 497.1M554.5 491.1L552.4 499.3M551.6 495.4L552.4 499.3L555.0 496.3M572.7 491.1L570.1 500.8M569.2 496.1L570.1 500.8L573.2 497.2M590.8 491.1L588.0 502.7M586.8 497.2L588.0 502.7L591.6 498.4M609.0 491.1L606.3 504.6M604.6 498.3L606.3 504.6L610.2 499.5M627.2 491.1L623.7 504.4M622.4 498.1L623.7 504.4L627.9 499.5M645.4 491.1L641.1 504.2M640.2 497.8L641.1 504.2L645.6 499.5M663.5 491.1L658.3 504.5M657.8 497.7L658.3 504.5L663.3 499.9M681.7 491.1L675.7 504.2M675.5 497.4L675.7 504.2L680.9 499.9M699.9 491.1L693.1 503.8M693.3 497.0L693.1 503.8L698.6 499.8M718.1 491.1L711.4 503.9M711.6 497.1L711.4 503.9L716.9 499.9M736.2 491.1L729.8 504.0M729.8 497.2L729.8 504.0L735.2 499.9M754.4 491.1L748.2 504.1M748.1 497.3L748.2 504.1L753.5 499.9M772.6 491.1L766.5 504.2M766.4 497.4L766.5 504.2L771.8 499.9M790.8 491.1L784.9 504.3M784.6 497.5L784.9 504.3L790.1 499.9M300.0 509.2L293.4 512.9M295.5 510.0L293.4 512.9L297.0 512.7M318.2 509.2L312.4 517.5M313.2 512.8L312.4 517.5L316.6 515.2M336.4 509.2L332.0 519.4M331.8 514.2L332.0 519.4L335.9 516.0M354.6 509.2L352.0 519.0M351.1 514.3L352.0 519.0L355.1 515.4M372.7 509.2L371.1 518.0M370.0 514.0L371.1 518.0L373.6 514.7M390.9 509.2L389.8 518.1M388.4 514.1L389.8 518.1L392.1 514.6M409.1 509.2L408.2 519.6M406.4 515.0L408.2 519.6L410.7 515.4M427.3 509.2L426.2 519.6M424.5 515.0L426.2 519.6L428.8 515.4M445.4 509.2L444.2 519.8M442.6 515.1L444.2 519.8L446.9 515.6M463.6 509.2L462.2 520.1M460.6 515.2L462.2 520.1L465.1 515.8M481.8 509.2L480.2 520.5M478.6 515.4L480.2 520.5L483.2 516.0M500.0 509.2L498.4 520.5M496.8 515.4L498.4 520.5L501.4 516.0M518.1 509.2L516.7 520.1M515.1 515.2L516.7 520.1L519.6 515.8M536.3 509.2L535.0 519.7M533.4 515.0L535.0 519.7L537.7 515.6M554.5 509.2L553.3 518.8M551.8 514.5L553.3 518.8L555.8 515.0M572.7 509.2L571.3 519.8M569.7 515.1L571.3 519.8L574.1 515.6M590.8 509.2L589.2 521.7M587.3 516.1L589.2 521.7L592.4 516.8M609.0 509.2L607.0 523.5M604.9 517.1L607.0 523.5L610.8 517.9M627.2 509.2L624.4 523.4M622.7 516.8L624.4 523.4L628.5 518.0M645.4 509.2L641.8 523.2M640.4 516.6L641.8 523.2L646.2 518.0M663.5 509.2L659.1 523.3M658.1 516.4L659.1 523.3L663.9 518.3M681.7 509.2L676.6 522.8M676.0 516.0L676.6 522.8L681.5 518.1M699.9 509.2L694.0 522.5M693.8 515.7L694.0 522.5L699.2 518.1M718.1 509.2L712.4 522.5M712.0 515.7L712.4 522.5L717.5 518.1M736.2 509.2L730.7 522.6M730.3 515.8L730.7 522.6L735.8 518.1M754.4 509.2L749.1 522.7M748.6 515.9L749.1 522.7L754.1 518.1M772.6 509.2L767.4 522.8M766.8 516.0L767.4 522.8L772.4 518.1M790.8 509.2L785.8 522.8M785.1 516.1L785.8 522.8L790.7 518.1M281.9 527.4L277.9 527.4M279.6 526.6L277.9 527.4L279.6 528.2M300.0 527.4L294.7 532.8M295.8 529.4L294.7 532.8L298.1 531.6M318.2 527.4L313.8 535.9M313.9 531.4L313.8 535.9L317.4 533.3M336.4 527.4L333.0 537.5M332.3 532.6L333.0 537.5L336.5 534.0M354.6 527.4L352.7 537.8M351.4 533.0L352.7 537.8L355.6 533.8M372.7 527.4L371.7 537.4M370.1 533.0L371.7 537.4L374.2 533.4M390.9 527.4L390.6 537.5M388.6 533.1L390.6 537.5L392.8 533.3M409.1 527.4L408.6 538.7M406.5 533.9L408.6 538.7L411.1 534.1M427.3 527.4L426.6 538.7M424.6 533.8L426.6 538.7L429.2 534.1M445.4 527.4L444.6 538.7M442.7 533.8L444.6 538.7L447.3 534.1M463.6 527.4L462.8 538.9M460.8 533.9L462.8 538.9L465.5 534.2M481.8 527.4L481.0 539.3M478.9 534.1L481.0 539.3L483.8 534.4M500.0 527.4L499.2 539.3M497.1 534.1L499.2 539.3L502.0 534.4M518.1 527.4L517.4 539.3M515.3 534.1L517.4 539.3L520.2 534.4M536.3 527.4L535.6 538.9M533.5 533.9L535.6 538.9L538.3 534.2M554.5 527.4L553.8 538.1M551.9 533.4L553.8 538.1L556.3 533.7M572.7 527.4L571.9 539.0M569.8 533.9L571.9 539.0L574.6 534.3M590.8 527.4L589.8 540.8M587.5 535.0L589.8 540.8L593.0 535.4M609.0 527.4L607.7 542.7M605.1 535.9L607.7 542.7L611.4 536.5M627.2 527.4L625.0 542.4M622.9 535.6L625.0 542.4L629.0 536.5M645.4 527.4L642.4 542.2M640.6 535.4L642.4 542.2L646.7 536.6M663.5 527.4L659.8 542.3M658.3 535.2L659.8 542.3L664.4 536.8M681.7 527.4L677.4 542.2M676.2 535.1L677.4 542.2L682.3 536.8M699.9 527.4L695.0 542.0M694.1 534.8L695.0 542.0L700.1 536.9M718.1 527.4L713.3 541.7M712.4 534.7L713.3 541.7L718.3 536.6M736.2 527.4L731.6 541.5M730.7 534.6L731.6 541.5L736.5 536.5M754.4 527.4L749.9 541.6M748.9 534.7L749.9 541.6L754.7 536.5M772.6 527.4L768.3 541.6M767.2 534.7L768.3 541.6L773.0 536.5M790.8 527.4L786.7 541.7M785.5 534.8L786.7 541.7L791.3 536.5M263.7 545.6L263.3 547.6M263.1 546.7L263.3 547.6L263.9 546.8M281.9 545.6L279.9 549.0M280.0 547.1L279.9 549.0L281.4 548.0M300.0 545.6L296.8 552.4M296.8 548.9L296.8 552.4L299.6 550.2M318.2 545.6L314.9 554.6M314.5 550.1L314.9 554.6L318.2 551.5M336.4 545.6L334.3 556.1M333.0 551.2L334.3 556.1L337.4 552.1M354.6 545.6L354.2 556.6M352.1 551.9L354.2 556.6L356.6 552.0M372.7 545.6L372.5 556.6M370.3 551.9L372.5 556.6L374.9 552.0M390.9 545.6L390.9 556.6M388.6 552.0L390.9 556.6L393.2 552.0M409.1 545.6L409.1 557.8M406.6 552.6L409.1 557.8L411.6 552.6M427.3 545.6L427.3 557.8M424.8 552.6L427.3 557.8L429.8 552.6M445.4 545.6L445.4 557.8M442.9 552.6L445.4 557.8L447.9 552.6M463.6 545.6L463.6 557.8M461.1 552.6L463.6 557.8L466.1 552.6M481.8 545.6L481.8 557.9M479.2 552.7L481.8 557.9L484.3 552.7M500.0 545.6L500.0 557.9M497.4 552.7L500.0 557.9L502.5 552.7M518.1 545.6L518.1 557.9M515.6 552.7L518.1 557.9L520.7 552.7M536.3 545.6L536.3 557.9M533.8 552.7L536.3 557.9L538.9 552.7M554.5 545.6L554.5 558.3M551.9 552.9L554.5 558.3L557.1 552.9M572.7 545.6L572.5 558.9M569.8 553.2L572.5 558.9L575.3 553.3M590.8 545.6L590.5 560.2M587.6 553.9L590.5 560.2L593.6 554.1M609.0 545.6L608.5 561.2M605.5 554.5L608.5 561.2L611.9 554.7M627.2 545.6L626.1 560.9M623.4 554.2L626.1 560.9L629.7 554.6M645.4 545.6L643.6 561.0M641.2 554.1L643.6 561.0L647.5 554.8M663.5 545.6L661.2 561.2M659.0 554.1L661.2 561.2L665.4 555.1M681.7 545.6L678.7 561.5M676.7 554.2L678.7 561.5L683.2 555.4M699.9 545.6L696.2 561.4M694.5 554.0L696.2 561.4L701.0 555.5M718.1 545.6L714.6 561.0M712.9 553.8L714.6 561.0L719.2 555.2M736.2 545.6L732.9 560.7M731.2 553.6L732.9 560.7L737.4 555.0M754.4 545.6L751.1 560.9M749.3 553.7L751.1 560.9L755.6 555.1M772.6 545.6L769.3 560.9M767.5 553.7L769.3 560.9L773.8 555.1M790.8 545.6L787.5 560.9M785.7 553.8L787.5 560.9L792.0 555.1M245.5 563.8L245.2 565.5M245.0 564.7L245.2 565.5L245.7 564.8M263.7 563.8L263.7 566.6M263.1 565.4L263.7 566.6L264.3 565.4M281.9 563.8L281.2 571.3M279.9 568.0L281.2 571.3L283.0 568.2M300.0 563.8L298.6 573.3M297.3 569.0L298.6 573.3L301.2 569.5M318.2 563.8L316.5 574.3M315.1 569.5L316.5 574.3L319.4 570.2M336.4 563.8L336.4 575.2M334.0 570.4L336.4 575.2L338.7 570.4M354.6 563.8L355.4 575.7M352.6 570.8L355.4 575.7L357.5 570.5M372.7 563.8L373.4 575.7M370.6 570.8L373.4 575.7L375.6 570.5M390.9 563.8L391.3 575.7M388.7 570.8L391.3 575.7L393.6 570.6M409.1 563.8L410.0 576.8M406.9 571.5L410.0 576.8L412.3 571.1M427.3 563.8L428.2 576.8M425.1 571.5L428.2 576.8L430.5 571.1M445.4 563.8L446.3 576.6M443.3 571.4L446.3 576.6L448.6 571.0M463.6 563.8L464.5 576.5M461.5 571.3L464.5 576.5L466.7 570.9M481.8 563.8L482.7 576.5M479.7 571.3L482.7 576.5L484.9 570.9M500.0 563.8L500.7 576.5M497.8 571.2L500.7 576.5L503.0 571.0M518.1 563.8L518.7 576.5M515.8 571.2L518.7 576.5L521.1 571.0M536.3 563.8L536.9 576.7M534.0 571.3L536.9 576.7L539.3 571.1M554.5 563.8L555.1 577.0M552.1 571.5L555.1 577.0L557.6 571.3M572.7 563.8L573.7 577.7M570.4 572.0L573.7 577.7L576.1 571.6M590.8 563.8L592.1 579.2M588.4 572.9L592.1 579.2L594.7 572.4M609.0 563.8L610.1 579.6M606.4 573.2L610.1 579.6L612.9 572.7M627.2 563.8L627.1 579.5M623.9 572.9L627.1 579.5L630.4 572.9M645.4 563.8L644.6 579.8M641.6 572.9L644.6 579.8L648.2 573.2M663.5 563.8L662.2 580.2M659.4 573.0L662.2 580.2L666.1 573.5M681.7 563.8L679.6 580.6M677.1 573.0L679.6 580.6L684.0 573.9M699.9 563.8L696.9 580.4M694.8 572.8L696.9 580.4L701.6 574.0M718.1 563.8L715.3 580.0M713.1 572.6L715.3 580.0L719.8 573.7M736.2 563.8L733.6 579.3M731.5 572.2L733.6 579.3L737.9 573.3M754.4 563.8L751.7 579.6M749.6 572.4L751.7 579.6L756.1 573.5M772.6 563.8L769.9 579.3M767.8 572.2L769.9 579.3L774.2 573.3M790.8 563.8L788.0 579.2M786.0 572.1L788.0 579.2L792.4 573.2M209.2 581.9L207.7 581.4M208.4 581.3L207.7 581.4L208.2 581.9M227.3 581.9L225.3 581.9M226.2 581.5L225.3 581.9L226.2 582.3M245.5 581.9L243.3 585.1M243.6 583.3L243.3 585.1L244.9 584.3M263.7 581.9L261.3 588.5M261.0 585.2L261.3 588.5L263.7 586.2M281.9 581.9L281.0 591.3M279.5 587.2L281.0 591.3L283.3 587.5M300.0 581.9L300.0 592.6M297.8 588.1L300.0 592.6L302.2 588.1M318.2 581.9L318.6 593.4M316.1 588.6L318.6 593.4L320.8 588.5M336.4 581.9L337.4 593.9M334.5 589.0L337.4 593.9L339.4 588.6M354.6 581.9L356.7 594.3M353.3 589.5L356.7 594.3L358.4 588.6M372.7 581.9L375.0 594.6M371.4 589.7L375.0 594.6L376.7 588.8M390.9 581.9L393.2 594.6M389.6 589.7L393.2 594.6L394.8 588.8M409.1 581.9L411.0 595.5M407.4 590.1L411.0 595.5L413.0 589.4M427.3 581.9L429.2 595.5M425.6 590.1L429.2 595.5L431.1 589.4M445.4 581.9L447.3 595.1M443.8 589.9L447.3 595.1L449.2 589.2M463.6 581.9L465.4 594.9M462.0 589.8L465.4 594.9L467.3 589.1M481.8 581.9L483.6 594.7M480.2 589.7L483.6 594.7L485.5 588.9M500.0 581.9L501.6 594.7M498.3 589.7L501.6 594.7L503.5 589.0M518.1 581.9L519.6 594.8M516.3 589.6L519.6 594.8L521.6 589.0M536.3 581.9L537.6 595.1M534.4 589.8L537.6 595.1L539.8 589.3M554.5 581.9L555.7 595.5M552.4 590.0L555.7 595.5L558.0 589.5M572.7 581.9L574.4 596.4M570.7 590.6L574.4 596.4L576.6 589.9M590.8 581.9L593.1 597.4M589.0 591.3L593.1 597.4L595.3 590.4M609.0 581.9L611.8 597.5M607.4 591.5L611.8 597.5L613.8 590.4M627.2 581.9L628.4 597.7M624.7 591.3L628.4 597.7L631.1 590.8M645.4 581.9L645.7 598.4M642.2 591.5L645.7 598.4L649.0 591.4M663.5 581.9L663.2 599.1M659.8 591.8L663.2 599.1L666.9 591.9M681.7 581.9L680.5 599.5M677.4 591.8L680.5 599.5L684.6 592.3M699.9 581.9L697.7 599.4M695.0 591.6L697.7 599.4L702.3 592.5M718.1 581.9L715.9 598.9M713.3 591.3L715.9 598.9L720.3 592.2M736.2 581.9L734.1 598.2M731.7 590.9L734.1 598.2L738.4 591.7M754.4 581.9L752.3 598.0M749.9 590.8L752.3 598.0L756.5 591.7M772.6 581.9L770.4 597.7M768.1 590.6L770.4 597.7L774.6 591.5M790.8 581.9L788.6 597.6M786.3 590.5L788.6 597.6L792.7 591.4M136.5 600.1L136.5 597.6M137.0 598.7L136.5 597.6L135.9 598.7M172.8 600.1L172.8 595.1M173.8 597.2L172.8 595.1L171.8 597.2M191.0 600.1L191.0 595.1M192.0 597.2L191.0 595.1L190.0 597.2M209.2 600.1L208.3 599.1M208.9 599.3L208.3 599.1L208.5 599.7M227.3 600.1L226.3 601.8M226.4 600.9L226.3 601.8L227.1 601.3M245.5 600.1L244.8 604.0M244.3 602.2L244.8 604.0L245.9 602.5M263.7 600.1L263.7 607.1M262.3 604.1L263.7 607.1L265.1 604.1M281.9 600.1L282.6 608.8M280.5 605.3L282.6 608.8L284.1 605.0M300.0 600.1L301.8 610.2M299.0 606.3L301.8 610.2L303.2 605.6M318.2 600.1L321.1 611.0M317.7 607.0L321.1 611.0L322.1 605.8M336.4 600.1L339.4 611.5M335.8 607.3L339.4 611.5L340.5 606.1M354.6 600.1L357.9 612.2M354.0 607.8L357.9 612.2L359.0 606.4M372.7 600.1L376.3 612.7M372.2 608.1L376.3 612.7L377.4 606.6M390.9 600.1L394.5 613.5M390.2 608.6L394.5 613.5L395.7 607.1M409.1 600.1L412.0 614.4M407.8 609.0L412.0 614.4L413.7 607.8M427.3 600.1L429.9 614.4M425.9 608.9L429.9 614.4L431.8 607.8M445.4 600.1L448.0 614.1M444.0 608.7L448.0 614.1L449.8 607.7M463.6 600.1L466.1 613.9M462.2 608.6L466.1 613.9L467.9 607.6M481.8 600.1L484.2 613.5M480.4 608.4L484.2 613.5L486.0 607.4M500.0 600.1L502.4 613.5M498.6 608.4L502.4 613.5L504.1 607.4M518.1 600.1L520.5 613.6M516.7 608.4L520.5 613.6L522.3 607.4M536.3 600.1L538.5 613.6M534.8 608.3L538.5 613.6L540.3 607.5M554.5 600.1L556.5 614.2M552.8 608.7L556.5 614.2L558.6 607.8M572.7 600.1L575.6 615.0M571.3 609.3L575.6 615.0L577.4 608.1M590.8 600.1L594.3 615.5M589.7 609.7L594.3 615.5L596.0 608.3M609.0 600.1L612.4 615.4M607.8 609.6L612.4 615.4L614.1 608.2M627.2 600.1L629.6 615.7M625.4 609.6L629.6 615.7L631.8 608.6M645.4 600.1L646.9 617.2M642.7 610.3L646.9 617.2L649.8 609.7M663.5 600.1L663.9 618.0M660.1 610.5L663.9 618.0L667.4 610.4M681.7 600.1L680.8 618.4M677.4 610.5L680.8 618.4L685.0 610.9M699.9 600.1L698.4 618.4M695.3 610.4L698.4 618.4L702.8 611.0M718.1 600.1L716.2 617.9M713.3 610.0L716.2 617.9L720.6 610.8M736.2 600.1L734.1 617.2M731.5 609.5L734.1 617.2L738.5 610.4M754.4 600.1L752.3 616.8M749.8 609.3L752.3 616.8L756.6 610.2M772.6 600.1L770.5 616.3M768.0 609.0L770.5 616.3L774.7 609.9M790.8 600.1L788.6 616.3M786.2 609.0L788.6 616.3L792.8 609.9M27.4 618.3L35.6 612.5M33.4 616.7L35.6 612.5L31.0 613.3M45.6 618.3L53.6 612.6M51.4 616.7L53.6 612.6L49.1 613.4M63.8 618.3L71.6 612.8M69.4 616.7L71.6 612.8L67.2 613.5M81.9 618.3L89.8 612.8M87.6 616.7L89.8 612.8L85.3 613.5M100.1 618.3L108.0 612.8M105.8 616.7L108.0 612.8L103.5 613.5M118.3 618.3L126.2 612.8M124.0 616.7L126.2 612.8L121.7 613.5M136.5 618.3L144.3 612.8M142.1 616.7L144.3 612.8L139.9 613.5M154.6 618.3L162.0 614.0M159.8 617.3L162.0 614.0L158.0 614.3M172.8 618.3L177.0 615.3M175.9 617.4L177.0 615.3L174.6 615.7M191.0 618.3L194.1 617.1M193.0 618.3L194.1 617.1L192.6 617.0M209.2 618.3L209.8 619.4M209.3 619.1L209.8 619.4L209.8 618.8M227.3 618.3L228.3 620.0M227.6 619.5L228.3 620.0L228.3 619.1M245.5 618.3L246.9 622.0M245.5 620.7L246.9 622.0L247.0 620.1M263.7 618.3L265.6 625.6M263.3 622.9L265.6 625.6L266.3 622.1M281.9 618.3L285.0 626.9M281.9 623.9L285.0 626.9L285.4 622.6M300.0 618.3L304.6 628.1M300.7 624.9L304.6 628.1L304.7 623.0M318.2 618.3L323.2 629.0M318.9 625.5L323.2 629.0L323.3 623.4M336.4 618.3L340.7 630.2M336.4 626.1L340.7 630.2L341.4 624.3M354.6 618.3L359.3 630.9M354.7 626.5L359.3 630.9L359.9 624.6M372.7 618.3L377.8 631.3M373.0 626.9L377.8 631.3L378.4 624.8M390.9 618.3L396.4 632.0M391.3 627.3L396.4 632.0L396.9 625.1M409.1 618.3L412.8 632.6M408.3 627.3L412.8 632.6L414.2 625.8M427.3 618.3L430.8 632.6M426.4 627.3L430.8 632.6L432.3 625.8M445.4 618.3L448.7 632.3M444.4 627.1L448.7 632.3L450.2 625.7M463.6 618.3L466.8 632.3M462.5 627.0L466.8 632.3L468.3 625.7M481.8 618.3L484.9 632.1M480.7 626.9L484.9 632.1L486.4 625.6M500.0 618.3L503.0 631.8M498.9 626.7L503.0 631.8L504.5 625.5M518.1 618.3L521.2 631.8M517.1 626.7L521.2 631.8L522.7 625.5M536.3 618.3L539.3 631.8M535.2 626.7L539.3 631.8L540.8 625.5M554.5 618.3L557.4 632.2M553.3 626.9L557.4 632.2L559.0 625.7M572.7 618.3L576.6 632.5M572.0 627.3L576.6 632.5L577.9 625.7M590.8 618.3L595.1 633.0M590.3 627.7L595.1 633.0L596.4 625.9M609.0 618.3L613.1 633.4M608.3 627.9L613.1 633.4L614.5 626.1M627.2 618.3L630.3 633.8M625.8 627.9L630.3 633.8L632.2 626.6M645.4 618.3L647.6 635.6M643.1 628.8L647.6 635.6L650.3 627.8M663.5 618.3L664.0 636.6M660.1 629.0L664.0 636.6L667.6 628.8M681.7 618.3L681.3 636.9M677.6 628.9L681.3 636.9L685.3 629.1M699.9 618.3L699.1 636.9M695.6 628.9L699.1 636.9L703.3 629.2M718.1 618.3L716.9 636.6M713.6 628.6L716.9 636.6L721.1 629.1M736.2 618.3L734.6 636.1M731.6 628.3L734.6 636.1L739.0 628.9M754.4 618.3L752.4 635.7M749.7 627.9L752.4 635.7L756.8 628.7M772.6 618.3L770.5 634.9M768.0 627.5L770.5 634.9L774.8 628.3M790.8 618.3L788.6 634.8M786.1 627.4L788.6 634.8L792.9 628.3M9.2 636.5L15.2 636.5M12.7 637.7L15.2 636.5L12.7 635.2M27.4 636.5L37.0 636.5M33.0 638.4L37.0 636.5L33.0 634.5M45.6 636.5L55.0 636.2M51.1 638.2L55.0 636.2L51.0 634.4M63.8 636.5L73.6 635.9M69.6 638.2L73.6 635.9L69.3 634.1M81.9 636.5L92.0 635.6M87.9 638.0L92.0 635.6L87.5 633.9M100.1 636.5L110.2 636.1M106.0 638.3L110.2 636.1L105.8 634.2M118.3 636.5L127.9 636.5M123.8 638.4L127.9 636.5L123.8 634.5M136.5 636.5L145.8 636.8M141.8 638.6L145.8 636.8L141.9 634.7M154.6 636.5L162.2 636.9M158.9 638.2L162.2 636.9L159.1 635.1M172.8 636.5L178.0 636.9M175.7 637.8L178.0 636.9L175.9 635.7M191.0 636.5L194.9 637.0M193.1 637.6L194.9 637.0L193.3 636.0M209.2 636.5L212.3 637.6M210.7 637.8L212.3 637.6L211.2 636.5M227.3 636.5L231.6 639.4M229.2 639.0L231.6 639.4L230.4 637.3M245.5 636.5L250.4 642.3M247.1 640.8L250.4 642.3L249.5 638.8M263.7 636.5L269.2 644.3M265.2 642.1L269.2 644.3L268.5 639.9M281.9 636.5L287.3 645.2M283.2 642.6L287.3 645.2L286.8 640.4M300.0 636.5L305.8 646.5M301.3 643.5L305.8 646.5L305.5 641.1M318.2 636.5L324.1 647.5M319.3 644.1L324.1 647.5L323.9 641.6M336.4 636.5L342.1 648.7M337.2 644.7L342.1 648.7L342.2 642.3M354.6 636.5L360.3 649.3M355.2 645.0L360.3 649.3L360.5 642.7M372.7 636.5L378.4 649.9M373.3 645.4L378.4 649.9L378.8 643.0M390.9 636.5L396.6 650.7M391.3 645.8L396.6 650.7L397.2 643.5M409.1 636.5L413.8 651.0M408.8 645.8L413.8 651.0L414.8 643.9M427.3 636.5L431.8 651.1M426.9 645.8L431.8 651.1L432.9 644.0M445.4 636.5L449.8 651.1M444.9 645.8L449.8 651.1L451.0 644.0M463.6 636.5L467.8 651.2M463.0 645.8L467.8 651.2L469.1 644.1M481.8 636.5L485.7 651.1M481.0 645.7L485.7 651.1L487.1 644.1M500.0 636.5L503.8 650.7M499.2 645.5L503.8 650.7L505.1 643.9M518.1 636.5L522.0 650.7M517.4 645.5L522.0 650.7L523.3 643.9M536.3 636.5L540.0 650.4M535.6 645.3L540.0 650.4L541.3 643.7M554.5 636.5L558.3 650.7M553.8 645.5L558.3 650.7L559.6 643.9M572.7 636.5L577.8 650.7M572.7 645.7L577.8 650.7L578.6 643.6M590.8 636.5L595.8 650.9M590.7 645.9L595.8 650.9L596.7 643.8M609.0 636.5L613.7 651.0M608.7 645.8L613.7 651.0L614.7 643.9M627.2 636.5L631.0 651.8M626.2 646.1L631.0 651.8L632.5 644.5M645.4 636.5L648.4 653.5M643.6 646.9L648.4 653.5L650.6 645.7M663.5 636.5L664.2 654.7M660.1 647.1L664.2 654.7L667.7 646.9M681.7 636.5L682.0 655.1M678.1 647.3L682.0 655.1L685.8 647.2M699.9 636.5L699.9 655.2M696.0 647.3L699.9 655.2L703.7 647.3M718.1 636.5L717.6 655.0M714.0 647.1L717.6 655.0L721.6 647.3M736.2 636.5L735.4 654.4M732.0 646.7L735.4 654.4L739.4 647.0M754.4 636.5L753.1 654.3M750.0 646.5L753.1 654.3L757.3 647.0M772.6 636.5L770.9 653.5M768.1 646.0L770.9 653.5L775.1 646.7M790.8 636.5L788.7 653.0M786.2 645.6L788.7 653.0L793.0 646.5M9.2 654.6L15.2 654.6M12.7 655.9L15.2 654.6L12.7 653.4M27.4 654.6L37.0 654.8M32.9 656.7L37.0 654.8L33.0 652.8M45.6 654.6L55.4 655.2M51.2 657.0L55.4 655.2L51.4 652.9M63.8 654.6L74.4 655.3M69.8 657.2L74.4 655.3L70.1 652.8M81.9 654.6L93.0 655.2M88.2 657.2L93.0 655.2L88.4 652.7M100.1 654.6L111.1 655.6M106.3 657.5L111.1 655.6L106.7 652.9M118.3 654.6L128.9 656.1M124.1 657.7L128.9 656.1L124.7 653.3M136.5 654.6L146.3 656.7M141.7 657.9L146.3 656.7L142.6 653.8M154.6 654.6L163.8 657.6M159.3 658.2L163.8 657.6L160.5 654.5M172.8 654.6L181.1 658.0M176.9 658.3L181.1 658.0L178.3 654.9M191.0 654.6L198.7 658.2M194.7 658.3L198.7 658.2L196.2 655.1M209.2 654.6L216.9 659.1M212.7 658.8L216.9 659.1L214.6 655.6M227.3 654.6L234.9 660.6M230.5 659.6L234.9 660.6L232.9 656.5M245.5 654.6L252.9 662.1M248.3 660.5L252.9 662.1L251.3 657.4M263.7 654.6L271.0 663.4M266.1 661.2L271.0 663.4L269.7 658.2M281.9 654.6L288.5 664.1M283.7 661.5L288.5 664.1L287.7 658.8M300.0 654.6L306.5 665.0M301.6 661.9L306.5 665.0L305.9 659.3M318.2 654.6L324.4 666.2M319.4 662.6L324.4 666.2L324.1 660.0M336.4 654.6L342.5 666.9M337.4 662.9L342.5 666.9L342.4 660.4M354.6 654.6L360.9 667.6M355.5 663.4L360.9 667.6L360.9 660.8M372.7 654.6L379.2 668.1M373.7 663.8L379.2 668.1L379.2 661.1M390.9 654.6L397.5 668.8M391.8 664.2L397.5 668.8L397.7 661.5M409.1 654.6L414.4 669.3M409.1 664.2L414.4 669.3L415.2 662.0M427.3 654.6L432.5 669.5M427.2 664.3L432.5 669.5L433.3 662.2M445.4 654.6L450.5 669.7M445.2 664.4L450.5 669.7L451.5 662.3M463.6 654.6L468.5 669.8M463.3 664.4L468.5 669.8L469.6 662.4M481.8 654.6L486.6 669.8M481.4 664.4L486.6 669.8L487.7 662.4M500.0 654.6L504.7 669.7M499.6 664.3L504.7 669.7L505.8 662.4M518.1 654.6L522.8 669.6M517.8 664.2L522.8 669.6L523.9 662.3M536.3 654.6L540.9 669.3M535.9 664.0L540.9 669.3L542.0 662.1M554.5 654.6L559.1 669.0M554.2 663.9L559.1 669.0L560.1 662.0M572.7 654.6L578.2 668.9M572.9 664.0L578.2 668.9L578.8 661.7M590.8 654.6L595.8 669.1M590.7 664.0L595.8 669.1L596.7 662.0M609.0 654.6L613.7 669.2M608.7 664.0L613.7 669.2L614.7 662.1M627.2 654.6L631.1 670.5M626.2 664.6L631.1 670.5L632.7 663.0M645.4 654.6L648.4 672.1M643.5 665.4L648.4 672.1L650.7 664.1M663.5 654.6L664.2 673.5M660.0 665.7L664.2 673.5L667.8 665.4M681.7 654.6L682.1 674.6M677.8 666.2L682.1 674.6L686.0 666.1M699.9 654.6L699.9 674.6M695.8 666.2L699.9 674.6L704.0 666.2M718.1 654.6L717.6 674.0M713.8 665.7L717.6 674.0L721.8 665.9M736.2 654.6L735.3 673.4M731.8 665.3L735.3 673.4L739.6 665.6M754.4 654.6L753.1 672.8M749.9 664.8L753.1 672.8L757.4 665.4M772.6 654.6L770.9 672.0M768.0 664.3L770.9 672.0L775.2 665.0M790.8 654.6L788.7 671.6M786.1 664.0L788.7 671.6L793.1 664.8M9.2 672.8L15.2 672.8M12.7 674.0L15.2 672.8L12.7 671.6M27.4 672.8L37.7 673.2M33.3 675.1L37.7 673.2L33.4 670.9M45.6 672.8L56.1 673.5M51.5 675.4L56.1 673.5L51.8 671.1M63.8 672.8L74.8 674.0M69.9 675.7L74.8 674.0L70.4 671.2M81.9 672.8L93.4 674.4M88.2 676.1L93.4 674.4L88.9 671.4M100.1 672.8L111.9 674.9M106.5 676.4L111.9 674.9L107.4 671.6M118.3 672.8L129.6 675.4M124.3 676.7L129.6 675.4L125.4 672.0M136.5 672.8L147.3 676.3M142.0 677.1L147.3 676.3L143.5 672.6M154.6 672.8L165.0 677.6M159.6 677.7L165.0 677.6L161.6 673.5M172.8 672.8L182.7 678.5M177.4 678.2L182.7 678.5L179.7 674.1M191.0 672.8L200.6 679.0M195.2 678.4L200.6 679.0L197.8 674.4M209.2 672.8L218.7 679.5M213.3 678.6L218.7 679.5L216.0 674.7M227.3 672.8L236.5 680.5M231.1 679.2L236.5 680.5L234.2 675.4M245.5 672.8L254.2 681.5M248.8 679.7L254.2 681.5L252.4 676.1M263.7 672.8L271.7 682.4M266.4 680.0L271.7 682.4L270.3 676.7M281.9 672.8L289.4 682.4M284.2 679.9L289.4 682.4L288.2 676.8M300.0 672.8L307.3 683.2M302.1 680.3L307.3 683.2L306.4 677.3M318.2 672.8L324.8 684.2M319.7 680.7L324.8 684.2L324.3 678.0M336.4 672.8L342.8 684.9M337.6 681.1L342.8 684.9L342.6 678.5M354.6 672.8L361.1 685.6M355.7 681.6L361.1 685.6L361.0 678.9M372.7 672.8L379.3 686.2M373.8 681.9L379.3 686.2L379.3 679.2M390.9 672.8L397.5 687.0M391.8 682.4L397.5 687.0L397.7 679.6M409.1 672.8L414.9 687.3M409.5 682.4L414.9 687.3L415.5 680.0M427.3 672.8L433.1 687.8M427.5 682.7L433.1 687.8L433.7 680.3M445.4 672.8L451.4 688.5M445.6 683.1L451.4 688.5L452.1 680.6M463.6 672.8L469.6 688.8M463.8 683.3L469.6 688.8L470.3 680.8M481.8 672.8L487.7 688.8M481.9 683.3L487.7 688.8L488.5 680.9M500.0 672.8L505.7 688.9M500.0 683.3L505.7 688.9L506.6 680.9M518.1 672.8L523.7 688.5M518.1 683.0L523.7 688.5L524.6 680.7M536.3 672.8L541.8 687.9M536.4 682.7L541.8 687.9L542.6 680.4M554.5 672.8L560.0 687.5M554.6 682.4L560.0 687.5L560.7 680.1M572.7 672.8L578.6 686.9M573.2 682.2L578.6 686.9L579.0 679.8M590.8 672.8L596.0 687.2M590.8 682.2L596.0 687.2L596.8 680.1M609.0 672.8L613.7 687.4M608.7 682.2L613.7 687.4L614.7 680.2M627.2 672.8L631.2 689.0M626.2 683.0L631.2 689.0L632.8 681.3M645.4 672.8L648.4 690.3M643.5 683.6L648.4 690.3L650.7 682.3M663.5 672.8L664.2 692.1M659.9 684.1L664.2 692.1L667.9 683.8M681.7 672.8L682.1 693.2M677.7 684.7L682.1 693.2L686.1 684.5M699.9 672.8L699.9 693.2M695.7 684.6L699.9 693.2L704.1 684.6M718.1 672.8L717.6 692.8M713.7 684.3L717.6 692.8L721.9 684.5M736.2 672.8L735.3 692.1M731.7 683.8L735.3 692.1L739.7 684.2M754.4 672.8L753.0 691.5M749.8 683.3L753.0 691.5L757.5 683.9M772.6 672.8L770.8 690.9M767.8 682.9L770.8 690.9L775.3 683.6M790.8 672.8L788.6 690.4M785.9 682.6L788.6 690.4L793.1 683.4M9.2 691.0L15.8 691.6M12.9 692.7L15.8 691.6L13.2 690.0M27.4 691.0L38.0 692.2M33.3 693.8L38.0 692.2L33.8 689.5M45.6 691.0L56.4 692.4M51.5 694.0L56.4 692.4L52.1 689.6M63.8 691.0L75.1 692.7M69.9 694.3L75.1 692.7L70.6 689.7M81.9 691.0L93.7 693.1M88.3 694.6L93.7 693.1L89.2 689.8M100.1 691.0L112.4 693.6M106.7 695.0L112.4 693.6L107.7 690.0M118.3 691.0L130.4 694.2M124.6 695.4L130.4 694.2L126.0 690.4M136.5 691.0L148.2 695.3M142.4 695.9L148.2 695.3L144.2 691.0M154.6 691.0L165.8 696.7M159.9 696.6L165.8 696.7L162.3 692.0M172.8 691.0L183.6 698.0M177.6 697.3L183.6 698.0L180.5 692.8M191.0 691.0L201.6 699.0M195.5 697.8L201.6 699.0L198.8 693.4M209.2 691.0L219.7 699.1M213.6 697.8L219.7 699.1L216.9 693.5M227.3 691.0L237.3 699.8M231.3 698.1L237.3 699.8L234.9 694.0M245.5 691.0L255.1 700.2M249.1 698.3L255.1 700.2L252.9 694.3M263.7 691.0L272.4 701.0M266.7 698.6L272.4 701.0L270.8 695.0M281.9 691.0L289.8 700.9M284.4 698.4L289.8 700.9L288.5 695.1M300.0 691.0L307.6 701.2M302.3 698.5L307.6 701.2L306.5 695.3M318.2 691.0L325.2 702.0M320.0 698.8L325.2 702.0L324.6 695.9M336.4 691.0L343.3 702.6M338.0 699.1L343.3 702.6L342.7 696.3M354.6 691.0L361.4 703.2M356.0 699.5L361.4 703.2L361.0 696.7M372.7 691.0L379.6 703.9M374.0 699.8L379.6 703.9L379.3 697.0M390.9 691.0L397.9 705.0M392.1 700.5L397.9 705.0L397.8 697.6M409.1 691.0L415.4 705.3M409.8 700.6L415.4 705.3L415.7 697.9M427.3 691.0L433.8 706.0M428.0 701.0L433.8 706.0L434.1 698.3M445.4 691.0L452.4 707.0M446.1 701.7L452.4 707.0L452.7 698.8M463.6 691.0L470.7 707.6M464.3 702.0L470.7 707.6L471.1 699.1M481.8 691.0L488.8 707.8M482.4 702.1L488.8 707.8L489.3 699.2M500.0 691.0L506.9 707.8M500.5 702.1L506.9 707.8L507.4 699.3M518.1 691.0L524.8 707.5M518.6 701.9L524.8 707.5L525.4 699.1M536.3 691.0L542.9 706.7M536.9 701.4L542.9 706.7L543.4 698.7M554.5 691.0L561.0 706.0M555.1 701.0L561.0 706.0L561.3 698.3M572.7 691.0L579.0 705.3M573.4 700.6L579.0 705.3L579.3 697.9M590.8 691.0L596.3 705.3M591.1 700.4L596.3 705.3L597.0 698.1M609.0 691.0L613.8 705.9M608.7 700.6L613.8 705.9L614.9 698.6M627.2 691.0L631.2 707.3M626.2 701.2L631.2 707.3L632.9 699.6M645.4 691.0L648.4 708.5M643.5 701.7L648.4 708.5L650.7 700.5M663.5 691.0L664.2 710.3M659.9 702.3L664.2 710.3L667.9 702.0M681.7 691.0L682.1 711.8M677.6 703.1L682.1 711.8L686.2 703.0M699.9 691.0L699.9 712.1M695.5 703.2L699.9 712.1L704.2 703.2M718.1 691.0L717.6 711.8M713.5 702.9L717.6 711.8L722.1 703.1M736.2 691.0L735.2 711.4M731.5 702.6L735.2 711.4L739.9 703.0M754.4 691.0L753.0 710.7M749.5 702.1L753.0 710.7L757.6 702.7M772.6 691.0L770.7 709.8M767.6 701.5L770.7 709.8L775.4 702.2M790.8 691.0L788.5 709.3M785.7 701.1L788.5 709.3L793.2 702.0M9.2 709.2L16.3 711.7M12.8 712.1L16.3 711.7L13.9 709.2M27.4 709.2L37.9 712.6M32.8 713.3L37.9 712.6L34.2 709.0M45.6 709.2L56.2 712.2M51.1 713.1L56.2 712.2L52.4 708.7M63.8 709.2L75.0 712.0M69.7 713.1L75.0 712.0L70.8 708.5M81.9 709.2L93.7 711.7M88.2 713.0L93.7 711.7L89.2 708.2M100.1 709.2L112.3 712.2M106.5 713.4L112.3 712.2L107.8 708.4M118.3 709.2L130.6 712.9M124.6 713.9L130.6 712.9L126.2 708.8M136.5 709.2L148.4 714.0M142.4 714.4L148.4 714.0L144.4 709.5M154.6 709.2L166.4 715.4M160.1 715.2L166.4 715.4L162.7 710.3M172.8 709.2L184.1 717.1M177.7 716.1L184.1 717.1L181.0 711.4M191.0 709.2L202.0 718.4M195.4 716.8L202.0 718.4L199.3 712.2M209.2 709.2L220.2 718.4M213.6 716.8L220.2 718.4L217.4 712.2M227.3 709.2L237.8 718.8M231.4 716.9L237.8 718.8L235.4 712.6M245.5 709.2L255.2 719.0M249.1 716.8L255.2 719.0L253.2 712.8M263.7 709.2L272.7 719.2M266.8 716.8L272.7 719.2L271.0 713.1M281.9 709.2L290.5 719.5M284.7 716.9L290.5 719.5L289.0 713.4M300.0 709.2L308.2 719.9M302.5 717.0L308.2 719.9L307.0 713.7M318.2 709.2L325.9 720.2M320.4 717.1L325.9 720.2L324.9 713.9M336.4 709.2L344.0 720.7M338.4 717.4L344.0 720.7L343.2 714.3M354.6 709.2L362.1 721.4M356.4 717.8L362.1 721.4L361.4 714.7M372.7 709.2L380.1 721.9M374.4 718.1L380.1 721.9L379.6 715.0M390.9 709.2L398.1 722.7M392.3 718.5L398.1 722.7L397.9 715.5M409.1 709.2L415.6 723.0M410.0 718.5L415.6 723.0L415.7 715.8M427.3 709.2L434.0 724.1M428.1 719.2L434.0 724.1L434.2 716.4M445.4 709.2L452.8 725.9M446.3 720.4L452.8 725.9L453.2 717.3M463.6 709.2L471.4 727.1M464.4 721.1L471.4 727.1L471.8 717.9M481.8 709.2L489.8 727.9M482.6 721.7L489.8 727.9L490.3 718.3M500.0 709.2L507.9 728.0M500.7 721.7L507.9 728.0L508.4 718.4M518.1 709.2L525.8 727.6M518.8 721.4L525.8 727.6L526.4 718.3M536.3 709.2L543.6 726.3M537.0 720.6L543.6 726.3L544.1 717.5M554.5 709.2L561.4 724.8M555.3 719.6L561.4 724.8L561.7 716.8M572.7 709.2L579.2 723.8M573.4 719.0L579.2 723.8L579.5 716.3M590.8 709.2L596.3 723.5M591.1 718.6L596.3 723.5L597.0 716.3M609.0 709.2L614.0 724.4M608.7 719.0L614.0 724.4L615.0 717.0M627.2 709.2L631.3 725.7M626.2 719.6L631.3 725.7L633.0 717.9M645.4 709.2L648.4 726.7M643.5 719.9L648.4 726.7L650.7 718.6M663.5 709.2L664.2 728.5M659.9 720.5L664.2 728.5L667.9 720.2M681.7 709.2L682.1 730.2M677.6 721.4L682.1 730.2L686.3 721.3M699.9 709.2L699.9 730.7M695.5 721.6L699.9 730.7L704.3 721.6M718.1 709.2L717.5 730.7M713.3 721.5L717.5 730.7L722.2 721.7M736.2 709.2L735.2 730.0M731.4 721.0L735.2 730.0L739.9 721.4M754.4 709.2L752.9 729.5M749.4 720.6L752.9 729.5L757.7 721.2M772.6 709.2L770.7 728.4M767.6 719.9L770.7 728.4L775.5 720.7M790.8 709.2L788.6 727.8M785.7 719.5L788.6 727.8L793.4 720.4M9.2 727.3L16.9 730.9M12.9 731.0L16.9 730.9L14.4 727.8M27.4 727.3L37.8 731.6M32.5 731.9L37.8 731.6L34.3 727.7M45.6 727.3L56.0 731.0M50.8 731.6L56.0 731.0L52.4 727.3M63.8 727.3L74.9 730.7M69.5 731.6L74.9 730.7L70.9 727.0M81.9 727.3L93.6 730.2M88.1 731.4L93.6 730.2L89.2 726.6M100.1 727.3L112.2 730.8M106.4 731.8L112.2 730.8L107.8 726.9M118.3 727.3L130.6 731.3M124.6 732.2L130.6 731.3L126.2 727.1M136.5 727.3L148.7 732.5M142.5 732.9L148.7 732.5L144.6 727.8M154.6 727.3L166.6 734.3M160.1 733.8L166.6 734.3L163.0 728.9M172.8 727.3L184.3 736.0M177.7 734.7L184.3 736.0L181.2 730.0M191.0 727.3L202.0 737.2M195.3 735.3L202.0 737.2L199.4 730.8M209.2 727.3L220.2 737.1M213.5 735.3L220.2 737.1L217.6 730.7M227.3 727.3L237.8 737.2M231.3 735.2L237.8 737.2L235.4 730.9M245.5 727.3L255.3 737.4M249.1 735.2L255.3 737.4L253.2 731.2M263.7 727.3L272.7 737.6M266.8 735.1L272.7 737.6L271.0 731.4M281.9 727.3L290.3 737.8M284.6 735.1L290.3 737.8L288.9 731.6M300.0 727.3L308.0 738.0M302.4 735.1L308.0 738.0L306.8 731.9M318.2 727.3L325.8 738.2M320.4 735.2L325.8 738.2L324.9 732.1M336.4 727.3L343.8 738.6M338.3 735.4L343.8 738.6L343.0 732.3M354.6 727.3L361.8 739.1M356.3 735.6L361.8 739.1L361.2 732.6M372.7 727.3L379.9 739.8M374.3 736.0L379.9 739.8L379.5 733.1M390.9 727.3L398.0 740.7M392.3 736.5L398.0 740.7L397.8 733.6M409.1 727.3L415.7 740.9M410.1 736.6L415.7 740.9L415.7 733.8M427.3 727.3L434.2 742.0M428.2 737.2L434.2 742.0L434.3 734.4M445.4 727.3L453.2 744.3M446.4 738.7L453.2 744.3L453.4 735.5M463.6 727.3L472.0 746.2M464.6 740.0L472.0 746.2L472.3 736.5M481.8 727.3L490.9 748.1M482.8 741.2L490.9 748.1L491.3 737.4M500.0 727.3L509.1 748.5M500.9 741.4L509.1 748.5L509.6 737.7M518.1 727.3L526.8 747.8M518.9 741.0L526.8 747.8L527.4 737.4M536.3 727.3L544.3 745.6M537.2 739.6L544.3 745.6L544.7 736.3M554.5 727.3L561.7 743.4M555.3 738.1L561.7 743.4L561.9 735.2M572.7 727.3L579.3 742.1M573.4 737.2L579.3 742.1L579.5 734.5M590.8 727.3L596.3 741.6M591.1 736.7L596.3 741.6L597.0 734.5M609.0 727.3L614.1 742.9M608.7 737.4L614.1 742.9L615.1 735.3M627.2 727.3L631.4 744.2M626.1 737.9L631.4 744.2L633.1 736.2M645.4 727.3L648.4 744.8M643.5 738.1L648.4 744.8L650.7 736.8M663.5 727.3L664.2 746.7M659.9 738.6L664.2 746.7L667.9 738.4M681.7 727.3L682.1 748.8M677.5 739.8L682.1 748.8L686.4 739.7M699.9 727.3L699.9 750.0M695.2 740.4L699.9 750.0L704.5 740.4M718.1 727.3L717.5 750.0M713.1 740.3L717.5 750.0L722.4 740.5M736.2 727.3L735.2 748.8M731.2 739.5L735.2 748.8L740.1 740.0M754.4 727.3L753.0 748.1M749.3 739.1L753.0 748.1L757.9 739.7M772.6 727.3L770.8 747.2M767.5 738.5L770.8 747.2L775.7 739.2M790.8 727.3L788.8 746.1M785.7 737.8L788.8 746.1L793.5 738.6M9.2 745.5L18.1 750.2M13.4 750.1L18.1 750.2L15.3 746.4M27.4 745.5L37.5 750.1M32.3 750.3L37.5 750.1L34.2 746.1M45.6 745.5L56.2 749.7M50.9 750.1L56.2 749.7L52.6 745.7M63.8 745.5L74.8 749.1M69.4 749.9L74.8 749.1L70.9 745.3M81.9 745.5L93.5 748.6M88.0 749.7L93.5 748.6L89.3 744.9M100.1 745.5L112.1 749.2M106.3 750.1L112.1 749.2L107.8 745.2M118.3 745.5L130.4 749.9M124.4 750.6L130.4 749.9L126.2 745.6M136.5 745.5L148.7 751.2M142.3 751.3L148.7 751.2L144.7 746.3M154.6 745.5L166.4 752.8M159.9 752.2L166.4 752.8L162.9 747.3M172.8 745.5L184.1 755.0M177.4 753.3L184.1 755.0L181.3 748.7M191.0 745.5L201.7 756.2M195.0 753.9L201.7 756.2L199.4 749.5M209.2 745.5L220.2 755.9M213.4 753.8L220.2 755.9L217.7 749.2M227.3 745.5L237.8 755.9M231.2 753.7L237.8 755.9L235.5 749.4M245.5 745.5L255.3 755.8M249.0 753.5L255.3 755.8L253.3 749.5M263.7 745.5L272.7 756.0M266.7 753.4L272.7 756.0L271.1 749.7M281.9 745.5L290.2 756.1M284.5 753.3L290.2 756.1L288.9 749.9M300.0 745.5L308.0 756.2M302.4 753.3L308.0 756.2L306.8 750.0M318.2 745.5L325.8 756.4M320.4 753.4L325.8 756.4L324.9 750.2M336.4 745.5L343.7 756.6M338.3 753.4L343.7 756.6L342.9 750.4M354.6 745.5L361.7 757.1M356.3 753.7L361.7 757.1L361.1 750.7M372.7 745.5L379.8 757.8M374.3 754.1L379.8 757.8L379.4 751.2M390.9 745.5L397.8 758.5M392.2 754.5L397.8 758.5L397.6 751.6M409.1 745.5L415.8 758.7M410.2 754.5L415.8 758.7L415.7 751.7M427.3 745.5L434.4 759.9M428.4 755.3L434.4 759.9L434.3 752.4M445.4 745.5L453.5 762.3M446.6 756.9L453.5 762.3L453.6 753.5M463.6 745.5L472.5 764.6M464.8 758.4L472.5 764.6L472.7 754.7M481.8 745.5L491.6 767.2M483.0 760.0L491.6 767.2L491.9 756.0M500.0 745.5L509.9 767.9M501.1 760.5L509.9 767.9L510.3 756.4M518.1 745.5L527.6 767.3M519.1 760.0L527.6 767.3L528.1 756.1M536.3 745.5L544.6 764.2M537.3 758.0L544.6 764.2L545.0 754.6M554.5 745.5L561.7 761.7M555.3 756.4L561.7 761.7L562.0 753.4M572.7 745.5L579.3 760.4M573.4 755.5L579.3 760.4L579.6 752.8M590.8 745.5L596.3 759.8M591.1 754.9L596.3 759.8L597.0 752.6M609.0 745.5L614.2 761.5M608.7 755.8L614.2 761.5L615.3 753.7M627.2 745.5L631.5 762.8M626.1 756.4L631.5 762.8L633.2 754.6M645.4 745.5L648.5 763.3M643.5 756.4L648.5 763.3L650.8 755.1M663.5 745.5L664.2 765.3M659.9 757.1L664.2 765.3L668.0 756.8M681.7 745.5L682.1 767.0M677.5 758.0L682.1 767.0L686.4 757.9M699.9 745.5L699.9 768.9M695.1 759.0L699.9 768.9L704.7 759.0M718.1 745.5L717.5 768.9M712.9 758.9L717.5 768.9L722.5 759.1M736.2 745.5L735.3 767.7M731.1 758.2L735.3 767.7L740.3 758.6M754.4 745.5L753.1 766.5M749.3 757.4L753.1 766.5L758.0 757.9M772.6 745.5L771.0 765.4M767.6 756.7L771.0 765.4L775.8 757.3M790.8 745.5L789.0 764.3M785.8 756.0L789.0 764.3L793.6 756.8M9.2 763.7L19.6 769.7M14.0 769.3L19.6 769.7L16.5 765.0M27.4 763.7L38.1 769.1M32.5 769.0L38.1 769.1L34.7 764.6M45.6 763.7L56.5 768.6M50.9 768.8L56.5 768.6L52.9 764.2M63.8 763.7L74.9 768.0M69.3 768.5L74.9 768.0L71.1 763.9M81.9 763.7L93.3 767.4M87.8 768.2L93.3 767.4L89.3 763.5M100.1 763.7L111.8 768.2M105.9 768.7L111.8 768.2L107.8 763.9M118.3 763.7L130.0 769.1M124.0 769.2L130.0 769.1L126.2 764.4M136.5 763.7L148.3 770.0M142.0 769.8L148.3 770.0L144.6 764.9M154.6 763.7L166.5 771.6M159.8 770.7L166.5 771.6L163.1 765.8M172.8 763.7L184.2 773.0M177.5 771.4L184.2 773.0L181.3 766.7M191.0 763.7L201.8 774.5M195.0 772.2L201.8 774.5L199.5 767.7M209.2 763.7L220.0 774.5M213.2 772.2L220.0 774.5L217.6 767.7M227.3 763.7L237.5 774.4M231.0 772.0L237.5 774.4L235.4 767.8M245.5 763.7L255.1 774.4M248.8 771.9L255.1 774.4L253.3 767.9M263.7 763.7L272.6 774.3M266.6 771.6L272.6 774.3L271.0 768.0M281.9 763.7L290.2 774.2M284.5 771.5L290.2 774.2L288.9 768.1M300.0 763.7L308.0 774.3M302.4 771.5L308.0 774.3L306.8 768.2M318.2 763.7L325.8 774.6M320.4 771.5L325.8 774.6L324.9 768.4M336.4 763.7L343.7 774.8M338.3 771.6L343.7 774.8L342.9 768.6M354.6 763.7L361.6 775.1M356.3 771.8L361.6 775.1L361.0 768.8M372.7 763.7L379.7 775.8M374.3 772.1L379.7 775.8L379.3 769.3M390.9 763.7L397.8 776.7M392.2 772.6L397.8 776.7L397.6 769.8M409.1 763.7L416.0 776.7M410.4 772.6L416.0 776.7L415.8 769.8M427.3 763.7L434.6 778.0M428.6 773.5L434.6 778.0L434.5 770.4M445.4 763.7L453.8 780.3M446.8 775.0L453.8 780.3L453.7 771.6M463.6 763.7L472.8 782.6M465.0 776.5L472.8 782.6L472.8 772.7M481.8 763.7L492.1 785.5M483.3 778.4L492.1 785.5L492.2 774.2M500.0 763.7L510.3 786.3M501.3 778.9L510.3 786.3L510.6 774.6M518.1 763.7L528.0 785.7M519.3 778.4L528.0 785.7L528.3 774.4M536.3 763.7L544.6 782.3M537.3 776.2L544.6 782.3L545.0 772.7M554.5 763.7L561.8 780.0M555.3 774.6L561.8 780.0L562.1 771.6M572.7 763.7L579.3 778.6M573.4 773.7L579.3 778.6L579.6 770.9M590.8 763.7L596.3 778.0M591.1 773.1L596.3 778.0L597.0 770.8M609.0 763.7L614.3 779.9M608.7 774.1L614.3 779.9L615.4 772.0M627.2 763.7L631.5 780.9M626.1 774.5L631.5 780.9L633.2 772.8M645.4 763.7L648.5 781.6M643.5 774.7L648.5 781.6L650.9 773.4M663.5 763.7L664.2 783.7M659.8 775.4L664.2 783.7L668.1 775.1M681.7 763.7L682.1 785.2M677.5 776.2L682.1 785.2L686.4 776.0M699.9 763.7L699.9 787.1M695.1 777.2L699.9 787.1L704.7 777.2M718.1 763.7L717.6 787.8M712.8 777.5L717.6 787.8L722.8 777.7M736.2 763.7L735.4 786.3M731.1 776.6L735.4 786.3L740.4 776.9M754.4 763.7L753.3 784.7M749.4 775.6L753.3 784.7L758.1 776.1M772.6 763.7L771.2 783.6M767.7 774.9L771.2 783.6L775.9 775.5M790.8 763.7L789.1 782.5M785.9 774.2L789.1 782.5L793.7 774.9"/>
<g fill="#808080" shape-rendering="crispEdges">
<rect x="9" y="28" width="1" height="745"/><rect x="81" y="28" width="1" height="745"/><rect x="154" y="28" width="1" height="745"/><rect x="227" y="28" width="1" height="745"/><rect x="299" y="28" width="1" height="745"/><rect x="372" y="28" width="1" height="745"/><rect x="445" y="28" width="1" height="745"/><rect x="518" y="28" width="1" height="745"/><rect x="590" y="28" width="1" height="745"/><rect x="663" y="28" width="1" height="745"/><rect x="736" y="28" width="1" height="745"/><rect x="0" y="36" width="800" height="1"/><rect x="0" y="109" width="800" height="1"/><rect x="0" y="181" width="800" height="1"/><rect x="0" y="254" width="800" height="1"/><rect x="0" y="327" width="800" height="1"/><rect x="0" y="400" width="800" height="1"/><rect x="0" y="472" width="800" height="1"/><rect x="0" y="545" width="800" height="1"/><rect x="0" y="618" width="800" height="1"/><rect x="0" y="690" width="800" height="1"/><rect x="0" y="763" width="800" height="1"/>
</g>
<g fill="none" stroke="#000" stroke-width="1" stroke-linejoin="round" shape-rendering="crispEdges">
<polyline points="765.5,28.5 755.5,40.5 746.5,50.5 737.5,61.0 725.5,71.5 708.5,82.5 672.5,106.5 662.5,115.5 655.5,125.5 648.5,131.5 640.5,138.5 638.0,145.0 635.5,150.5 632.5,158.5 629.5,168.5 624.5,180.5 619.5,190.5 608.5,202.5 600.5,209.5 591.5,215.5 580.5,223.5 570.5,231.5 562.5,236.5 558.5,243.5 555.5,251.5 552.5,259.5 546.5,265.5 540.5,270.5 536.5,274.5 534.1,278.5 535.5,282.5 528.0,287.0 518.0,293.2 509.2,300.0 506.8,304.0 500.5,304.0 499.2,300.8 500.5,297.5 496.8,295.8 495.0,297.5 498.0,300.8 495.5,303.2 494.2,307.5 485.5,310.8 473.0,315.8 458.0,321.5 449.2,325.8 445.5,322.0 439.2,318.8 430.5,319.5 424.2,317.0 419.2,312.5 408.0,312.0 400.5,311.0 388.0,311.5 379.2,313.2 373.0,317.5 366.8,319.5 360.5,322.0 355.5,318.8 350.5,319.5 346.8,315.8 344.2,310.8 336.8,310.2 328.0,309.0 319.2,307.0 310.5,304.5 303.0,297.5 296.8,293.2 290.5,288.2 283.0,286.5 273.0,285.8 264.2,286.5 259.2,284.5 253.0,286.5 244.2,289.0 238.0,289.5 238.0,289.2 235.5,284.2 230.5,278.0 224.2,271.8 218.0,265.5 208.0,256.8 200.5,250.5 197.5,243.0 196.8,235.5 195.5,226.8 195.5,220.5 199.2,215.5 196.8,213.0 198.0,209.2 201.8,205.5 202.5,200.5 201.8,190.5 202.5,188.5 210.5,190.0 216.8,189.2 221.8,185.5 223.8,176.8 223.0,171.8 219.2,166.8 216.8,159.2 215.0,150.5 213.0,143.0 216.8,136.8 220.5,130.5 220.5,128.0 214.2,120.5 217.2,113.0 216.8,105.5 213.5,100.5 215.5,97.5 224.2,95.5 224.5,94.5 225.5,91.5 226.5,87.5 228.0,82.5 229.0,77.5 228.0,75.0 225.0,73.5 223.0,69.0 227.5,65.5 228.5,62.5 230.5,58.5 234.5,54.5 235.0,51.5 236.5,46.5 236.5,40.5 235.5,34.5 234.0,33.0 235.5,30.5 241.5,29.5"/>
<polyline points="213.0,143.0 211.8,150.5 213.0,158.0 215.0,168.0 217.5,174.2 216.0,180.5 216.8,184.2 213.0,188.0 205.5,189.2 198.0,188.0 196.0,189.2 197.5,193.0 196.8,198.0 197.5,204.2 194.2,208.0 190.5,213.0 188.5,220.5 188.0,230.5 190.0,238.0 193.5,245.5 195.5,254.2 199.2,260.5 200.0,268.0 198.0,271.8 193.0,274.2 186.0,276.0 190.5,278.5 194.2,281.8 191.8,286.8 194.2,290.5 200.5,295.8 205.5,300.8 211.8,307.5 219.2,310.0 228.0,312.5 238.0,315.8 248.0,319.5 256.8,325.0 265.5,330.0 274.2,337.0 281.8,344.5 288.0,353.2 291.0,360.8 286.8,367.0 280.5,373.2 274.2,382.0 272.5,392.0 274.2,398.0 278.0,405.5 284.2,413.0 290.5,419.2 296.8,423.0 304.2,427.5 310.5,425.5 318.0,423.5 321.0,428.0 323.0,438.0 324.8,450.5 325.0,464.2 320.5,470.5 314.2,476.8 308.0,484.2 303.0,493.0 299.2,500.5 293.0,508.0 285.5,514.2 275.5,521.8 268.0,530.5 263.0,538.0 261.8,548.0 259.2,554.2 250.5,560.5 238.0,566.8 225.5,573.0 210.5,579.2 200.5,582.0 190.5,583.8 175.5,588.0 163.0,591.2 150.5,596.2 128.0,599.5 113.0,602.0 100.5,604.5 83.0,608.8 33.0,613.8 28.0,615.0 10.5,617.0 0.5,618.2"/>
<polyline points="373.5,42.0 380.5,42.5 388.5,38.5 392.5,33.0 398.0,31.5 399.5,28.5 408.5,28.5 408.7,27.5 418.2,37.0 422.3,45.2 427.7,53.4 435.9,57.5 441.4,56.1 448.2,61.6 455.0,67.0 465.9,69.7 475.4,72.5 482.2,76.5 489.1,86.1 498.6,95.6 508.1,102.4 512.2,100.5 517.7,102.4 520.4,105.2 525.8,106.5 529.9,112.0 536.2,113.3 538.1,120.1 542.2,125.6 544.9,135.1 551.7,143.3 561.3,150.1 572.2,153.4 583.6,162.4 570.8,173.3 568.1,180.1 557.2,185.5 552.5,193.7 552.3,201.9 554.5,209.5 553.0,209.5 552.1,218.5 552.1,227.5 554.5,231.5 557.5,232.5 559.5,234.5 562.5,236.5"/>
<polyline points="701.5,27.5 702.5,33.5 704.5,41.5 700.5,44.5 691.5,46.5 689.5,53.5 676.5,57.5 668.5,60.5 664.5,65.5 661.5,74.5 659.5,77.5 657.5,79.5 659.5,81.9 661.5,79.9 660.1,77.5 656.5,83.5 649.5,89.5 647.5,95.5 646.5,99.5 649.5,104.5 646.5,107.5 645.5,113.5 650.5,115.5 652.5,113.5 655.5,112.5 653.5,115.5 657.5,120.5 660.5,115.5 659.5,109.5 660.5,106.5 658.5,100.5 660.5,96.5 670.5,97.5 677.5,95.5 683.5,91.5 691.5,87.5 700.5,81.5 702.5,77.5 704.5,73.5 707.5,75.5 714.5,72.5 722.5,64.5 725.5,57.5 726.5,47.5 727.5,42.5 734.5,40.5 736.5,42.5 737.5,45.5 739.5,43.5 740.5,41.5 738.5,35.5 737.5,27.5"/>
</g>
<clipPath id="fr"><rect x="0" y="28" width="800" height="745"/></clipPath>
<g fill="#808080" font-size="11px" clip-path="url(#fr)">
<text x="771" y="32">31S</text><text x="771" y="105">32S</text><text x="771" y="177">33S</text><text x="771" y="250">34S</text><text x="771" y="323">35S</text><text x="771" y="396">36S</text><text x="771" y="468">37S</text><text x="771" y="541">38S</text><text x="771" y="614">39S</text><text x="771" y="686">40S</text><text x="771" y="759">41S</text><text transform="translate(13.5,744) rotate(90)" textLength="20" lengthAdjust="spacingAndGlyphs">61W</text><text transform="translate(85.5,744) rotate(90)" textLength="20" lengthAdjust="spacingAndGlyphs">60W</text><text transform="translate(158.5,744) rotate(90)" textLength="20" lengthAdjust="spacingAndGlyphs">59W</text><text transform="translate(231.5,744) rotate(90)" textLength="20" lengthAdjust="spacingAndGlyphs">58W</text><text transform="translate(303.5,744) rotate(90)" textLength="20" lengthAdjust="spacingAndGlyphs">57W</text><text transform="translate(376.5,744) rotate(90)" textLength="20" lengthAdjust="spacingAndGlyphs">56W</text><text transform="translate(449.5,744) rotate(90)" textLength="20" lengthAdjust="spacingAndGlyphs">55W</text><text transform="translate(522.5,744) rotate(90)" textLength="20" lengthAdjust="spacingAndGlyphs">54W</text><text transform="translate(594.5,744) rotate(90)" textLength="20" lengthAdjust="spacingAndGlyphs">53W</text><text transform="translate(667.5,744) rotate(90)" textLength="20" lengthAdjust="spacingAndGlyphs">52W</text><text transform="translate(740.5,744) rotate(90)" textLength="20" lengthAdjust="spacingAndGlyphs">51W</text>
</g>
<g fill="#000" shape-rendering="crispEdges">
<rect x="0" y="27" width="800" height="1"/><rect x="0" y="27" width="1" height="746"/>
<rect x="1" y="27" width="1" height="5"/><rect x="1" y="769" width="1" height="4"/><rect x="9" y="27" width="1" height="5"/><rect x="9" y="757" width="1" height="16"/><rect x="16" y="27" width="1" height="5"/><rect x="16" y="769" width="1" height="4"/><rect x="23" y="27" width="1" height="5"/><rect x="23" y="769" width="1" height="4"/><rect x="30" y="27" width="1" height="5"/><rect x="30" y="769" width="1" height="4"/><rect x="38" y="27" width="1" height="5"/><rect x="38" y="769" width="1" height="4"/><rect x="45" y="27" width="1" height="9"/><rect x="45" y="765" width="1" height="8"/><rect x="52" y="27" width="1" height="5"/><rect x="52" y="769" width="1" height="4"/><rect x="60" y="27" width="1" height="5"/><rect x="60" y="769" width="1" height="4"/><rect x="67" y="27" width="1" height="5"/><rect x="67" y="769" width="1" height="4"/><rect x="74" y="27" width="1" height="5"/><rect x="74" y="769" width="1" height="4"/><rect x="81" y="27" width="1" height="17"/><rect x="81" y="757" width="1" height="16"/><rect x="89" y="27" width="1" height="5"/><rect x="89" y="769" width="1" height="4"/><rect x="96" y="27" width="1" height="5"/><rect x="96" y="769" width="1" height="4"/><rect x="103" y="27" width="1" height="5"/><rect x="103" y="769" width="1" height="4"/><rect x="110" y="27" width="1" height="5"/><rect x="110" y="769" width="1" height="4"/><rect x="118" y="27" width="1" height="9"/><rect x="118" y="765" width="1" height="8"/><rect x="125" y="27" width="1" height="5"/><rect x="125" y="769" width="1" height="4"/><rect x="132" y="27" width="1" height="5"/><rect x="132" y="769" width="1" height="4"/><rect x="140" y="27" width="1" height="5"/><rect x="140" y="769" width="1" height="4"/><rect x="147" y="27" width="1" height="5"/><rect x="147" y="769" width="1" height="4"/><rect x="154" y="27" width="1" height="17"/><rect x="154" y="757" width="1" height="16"/><rect x="161" y="27" width="1" height="5"/><rect x="161" y="769" width="1" height="4"/><rect x="169" y="27" width="1" height="5"/><rect x="169" y="769" width="1" height="4"/><rect x="176" y="27" width="1" height="5"/><rect x="176" y="769" width="1" height="4"/><rect x="183" y="27" width="1" height="5"/><rect x="183" y="769" width="1" height="4"/><rect x="190" y="27" width="1" height="9"/><rect x="190" y="765" width="1" height="8"/><rect x="198" y="27" width="1" height="5"/><rect x="198" y="769" width="1" height="4"/><rect x="205" y="27" width="1" height="5"/><rect x="205" y="769" width="1" height="4"/><rect x="212" y="27" width="1" height="5"/><rect x="212" y="769" width="1" height="4"/><rect x="219" y="27" width="1" height="5"/><rect x="219" y="769" width="1" height="4"/><rect x="227" y="27" width="1" height="17"/><rect x="227" y="757" width="1" height="16"/><rect x="234" y="27" width="1" height="5"/><rect x="234" y="769" width="1" height="4"/><rect x="241" y="27" width="1" height="5"/><rect x="241" y="769" width="1" height="4"/><rect x="249" y="27" width="1" height="5"/><rect x="249" y="769" width="1" height="4"/><rect x="256" y="27" width="1" height="5"/><rect x="256" y="769" width="1" height="4"/><rect x="263" y="27" width="1" height="9"/><rect x="263" y="765" width="1" height="8"/><rect x="270" y="27" width="1" height="5"/><rect x="270" y="769" width="1" height="4"/><rect x="278" y="27" width="1" height="5"/><rect x="278" y="769" width="1" height="4"/><rect x="285" y="27" width="1" height="5"/><rect x="285" y="769" width="1" height="4"/><rect x="292" y="27" width="1" height="5"/><rect x="292" y="769" width="1" height="4"/><rect x="299" y="27" width="1" height="17"/><rect x="299" y="757" width="1" height="16"/><rect x="307" y="27" width="1" height="5"/><rect x="307" y="769" width="1" height="4"/><rect x="314" y="27" width="1" height="5"/><rect x="314" y="769" width="1" height="4"/><rect x="321" y="27" width="1" height="5"/><rect x="321" y="769" width="1" height="4"/><rect x="329" y="27" width="1" height="5"/><rect x="329" y="769" width="1" height="4"/><rect x="336" y="27" width="1" height="9"/><rect x="336" y="765" width="1" height="8"/><rect x="343" y="27" width="1" height="5"/><rect x="343" y="769" width="1" height="4"/><rect x="350" y="27" width="1" height="5"/><rect x="350" y="769" width="1" height="4"/><rect x="358" y="27" width="1" height="5"/><rect x="358" y="769" width="1" height="4"/><rect x="365" y="27" width="1" height="5"/><rect x="365" y="769" width="1" height="4"/><rect x="372" y="27" width="1" height="17"/><rect x="372" y="757" width="1" height="16"/><rect x="379" y="27" width="1" height="5"/><rect x="379" y="769" width="1" height="4"/><rect x="387" y="27" width="1" height="5"/><rect x="387" y="769" width="1" height="4"/><rect x="394" y="27" width="1" height="5"/><rect x="394" y="769" width="1" height="4"/><rect x="401" y="27" width="1" height="5"/><rect x="401" y="769" width="1" height="4"/><rect x="408" y="27" width="1" height="9"/><rect x="408" y="765" width="1" height="8"/><rect x="416" y="27" width="1" height="5"/><rect x="416" y="769" width="1" height="4"/><rect x="423" y="27" width="1" height="5"/><rect x="423" y="769" width="1" height="4"/><rect x="430" y="27" width="1" height="5"/><rect x="430" y="769" width="1" height="4"/><rect x="438" y="27" width="1" height="5"/><rect x="438" y="769" width="1" height="4"/><rect x="445" y="27" width="1" height="17"/><rect x="445" y="757" width="1" height="16"/><rect x="452" y="27" width="1" height="5"/><rect x="452" y="769" width="1" height="4"/><rect x="459" y="27" width="1" height="5"/><rect x="459" y="769" width="1" height="4"/><rect x="467" y="27" width="1" height="5"/><rect x="467" y="769" width="1" height="4"/><rect x="474" y="27" width="1" height="5"/><rect x="474" y="769" width="1" height="4"/><rect x="481" y="27" width="1" height="9"/><rect x="481" y="765" width="1" height="8"/><rect x="488" y="27" width="1" height="5"/><rect x="488" y="769" width="1" height="4"/><rect x="496" y="27" width="1" height="5"/><rect x="496" y="769" width="1" height="4"/><rect x="503" y="27" width="1" height="5"/><rect x="503" y="769" width="1" height="4"/><rect x="510" y="27" width="1" height="5"/><rect x="510" y="769" width="1" height="4"/><rect x="518" y="27" width="1" height="17"/><rect x="518" y="757" width="1" height="16"/><rect x="525" y="27" width="1" height="5"/><rect x="525" y="769" width="1" height="4"/><rect x="532" y="27" width="1" height="5"/><rect x="532" y="769" width="1" height="4"/><rect x="539" y="27" width="1" height="5"/><rect x="539" y="769" width="1" height="4"/><rect x="547" y="27" width="1" height="5"/><rect x="547" y="769" width="1" height="4"/><rect x="554" y="27" width="1" height="9"/><rect x="554" y="765" width="1" height="8"/><rect x="561" y="27" width="1" height="5"/><rect x="561" y="769" width="1" height="4"/><rect x="568" y="27" width="1" height="5"/><rect x="568" y="769" width="1" height="4"/><rect x="576" y="27" width="1" height="5"/><rect x="576" y="769" width="1" height="4"/><rect x="583" y="27" width="1" height="5"/><rect x="583" y="769" width="1" height="4"/><rect x="590" y="27" width="1" height="17"/><rect x="590" y="757" width="1" height="16"/><rect x="598" y="27" width="1" height="5"/><rect x="598" y="769" width="1" height="4"/><rect x="605" y="27" width="1" height="5"/><rect x="605" y="769" width="1" height="4"/><rect x="612" y="27" width="1" height="5"/><rect x="612" y="769" width="1" height="4"/><rect x="619" y="27" width="1" height="5"/><rect x="619" y="769" width="1" height="4"/><rect x="627" y="27" width="1" height="9"/><rect x="627" y="765" width="1" height="8"/><rect x="634" y="27" width="1" height="5"/><rect x="634" y="769" width="1" height="4"/><rect x="641" y="27" width="1" height="5"/><rect x="641" y="769" width="1" height="4"/><rect x="648" y="27" width="1" height="5"/><rect x="648" y="769" width="1" height="4"/><rect x="656" y="27" width="1" height="5"/><rect x="656" y="769" width="1" height="4"/><rect x="663" y="27" width="1" height="17"/><rect x="663" y="757" width="1" height="16"/><rect x="670" y="27" width="1" height="5"/><rect x="670" y="769" width="1" height="4"/><rect x="677" y="27" width="1" height="5"/><rect x="677" y="769" width="1" height="4"/><rect x="685" y="27" width="1" height="5"/><rect x="685" y="769" width="1" height="4"/><rect x="692" y="27" width="1" height="5"/><rect x="692" y="769" width="1" height="4"/><rect x="699" y="27" width="1" height="9"/><rect x="699" y="765" width="1" height="8"/><rect x="707" y="27" width="1" height="5"/><rect x="707" y="769" width="1" height="4"/><rect x="714" y="27" width="1" height="5"/><rect x="714" y="769" width="1" height="4"/><rect x="721" y="27" width="1" height="5"/><rect x="721" y="769" width="1" height="4"/><rect x="728" y="27" width="1" height="5"/><rect x="728" y="769" width="1" height="4"/><rect x="736" y="27" width="1" height="17"/><rect x="736" y="757" width="1" height="16"/><rect x="743" y="27" width="1" height="5"/><rect x="743" y="769" width="1" height="4"/><rect x="750" y="27" width="1" height="5"/><rect x="750" y="769" width="1" height="4"/><rect x="757" y="27" width="1" height="5"/><rect x="757" y="769" width="1" height="4"/><rect x="765" y="27" width="1" height="5"/><rect x="765" y="769" width="1" height="4"/><rect x="772" y="27" width="1" height="9"/><rect x="772" y="765" width="1" height="8"/><rect x="779" y="27" width="1" height="5"/><rect x="779" y="769" width="1" height="4"/><rect x="787" y="27" width="1" height="5"/><rect x="787" y="769" width="1" height="4"/><rect x="794" y="27" width="1" height="5"/><rect x="794" y="769" width="1" height="4"/><rect x="0" y="29" width="5" height="1"/><rect x="795" y="29" width="5" height="1"/><rect x="0" y="36" width="5" height="1"/><rect x="783" y="36" width="17" height="1"/><rect x="0" y="43" width="5" height="1"/><rect x="795" y="43" width="5" height="1"/><rect x="0" y="51" width="5" height="1"/><rect x="795" y="51" width="5" height="1"/><rect x="0" y="58" width="5" height="1"/><rect x="795" y="58" width="5" height="1"/><rect x="0" y="65" width="5" height="1"/><rect x="795" y="65" width="5" height="1"/><rect x="0" y="72" width="9" height="1"/><rect x="791" y="72" width="9" height="1"/><rect x="0" y="80" width="5" height="1"/><rect x="795" y="80" width="5" height="1"/><rect x="0" y="87" width="5" height="1"/><rect x="795" y="87" width="5" height="1"/><rect x="0" y="94" width="5" height="1"/><rect x="795" y="94" width="5" height="1"/><rect x="0" y="101" width="5" height="1"/><rect x="795" y="101" width="5" height="1"/><rect x="0" y="109" width="17" height="1"/><rect x="783" y="109" width="17" height="1"/><rect x="0" y="116" width="5" height="1"/><rect x="795" y="116" width="5" height="1"/><rect x="0" y="123" width="5" height="1"/><rect x="795" y="123" width="5" height="1"/><rect x="0" y="131" width="5" height="1"/><rect x="795" y="131" width="5" height="1"/><rect x="0" y="138" width="5" height="1"/><rect x="795" y="138" width="5" height="1"/><rect x="0" y="145" width="9" height="1"/><rect x="791" y="145" width="9" height="1"/><rect x="0" y="152" width="5" height="1"/><rect x="795" y="152" width="5" height="1"/><rect x="0" y="160" width="5" height="1"/><rect x="795" y="160" width="5" height="1"/><rect x="0" y="167" width="5" height="1"/><rect x="795" y="167" width="5" height="1"/><rect x="0" y="174" width="5" height="1"/><rect x="795" y="174" width="5" height="1"/><rect x="0" y="181" width="17" height="1"/><rect x="783" y="181" width="17" height="1"/><rect x="0" y="189" width="5" height="1"/><rect x="795" y="189" width="5" height="1"/><rect x="0" y="196" width="5" height="1"/><rect x="795" y="196" width="5" height="1"/><rect x="0" y="203" width="5" height="1"/><rect x="795" y="203" width="5" height="1"/><rect x="0" y="210" width="5" height="1"/><rect x="795" y="210" width="5" height="1"/><rect x="0" y="218" width="9" height="1"/><rect x="791" y="218" width="9" height="1"/><rect x="0" y="225" width="5" height="1"/><rect x="795" y="225" width="5" height="1"/><rect x="0" y="232" width="5" height="1"/><rect x="795" y="232" width="5" height="1"/><rect x="0" y="240" width="5" height="1"/><rect x="795" y="240" width="5" height="1"/><rect x="0" y="247" width="5" height="1"/><rect x="795" y="247" width="5" height="1"/><rect x="0" y="254" width="17" height="1"/><rect x="783" y="254" width="17" height="1"/><rect x="0" y="261" width="5" height="1"/><rect x="795" y="261" width="5" height="1"/><rect x="0" y="269" width="5" height="1"/><rect x="795" y="269" width="5" height="1"/><rect x="0" y="276" width="5" height="1"/><rect x="795" y="276" width="5" height="1"/><rect x="0" y="283" width="5" height="1"/><rect x="795" y="283" width="5" height="1"/><rect x="0" y="290" width="9" height="1"/><rect x="791" y="290" width="9" height="1"/><rect x="0" y="298" width="5" height="1"/><rect x="795" y="298" width="5" height="1"/><rect x="0" y="305" width="5" height="1"/><rect x="795" y="305" width="5" height="1"/><rect x="0" y="312" width="5" height="1"/><rect x="795" y="312" width="5" height="1"/><rect x="0" y="320" width="5" height="1"/><rect x="795" y="320" width="5" height="1"/><rect x="0" y="327" width="17" height="1"/><rect x="783" y="327" width="17" height="1"/><rect x="0" y="334" width="5" height="1"/><rect x="795" y="334" width="5" height="1"/><rect x="0" y="341" width="5" height="1"/><rect x="795" y="341" width="5" height="1"/><rect x="0" y="349" width="5" height="1"/><rect x="795" y="349" width="5" height="1"/><rect x="0" y="356" width="5" height="1"/><rect x="795" y="356" width="5" height="1"/><rect x="0" y="363" width="9" height="1"/><rect x="791" y="363" width="9" height="1"/><rect x="0" y="370" width="5" height="1"/><rect x="795" y="370" width="5" height="1"/><rect x="0" y="378" width="5" height="1"/><rect x="795" y="378" width="5" height="1"/><rect x="0" y="385" width="5" height="1"/><rect x="795" y="385" width="5" height="1"/><rect x="0" y="392" width="5" height="1"/><rect x="795" y="392" width="5" height="1"/><rect x="0" y="400" width="17" height="1"/><rect x="783" y="400" width="17" height="1"/><rect x="0" y="407" width="5" height="1"/><rect x="795" y="407" width="5" height="1"/><rect x="0" y="414" width="5" height="1"/><rect x="795" y="414" width="5" height="1"/><rect x="0" y="421" width="5" height="1"/><rect x="795" y="421" width="5" height="1"/><rect x="0" y="429" width="5" height="1"/><rect x="795" y="429" width="5" height="1"/><rect x="0" y="436" width="9" height="1"/><rect x="791" y="436" width="9" height="1"/><rect x="0" y="443" width="5" height="1"/><rect x="795" y="443" width="5" height="1"/><rect x="0" y="450" width="5" height="1"/><rect x="795" y="450" width="5" height="1"/><rect x="0" y="458" width="5" height="1"/><rect x="795" y="458" width="5" height="1"/><rect x="0" y="465" width="5" height="1"/><rect x="795" y="465" width="5" height="1"/><rect x="0" y="472" width="17" height="1"/><rect x="783" y="472" width="17" height="1"/><rect x="0" y="479" width="5" height="1"/><rect x="795" y="479" width="5" height="1"/><rect x="0" y="487" width="5" height="1"/><rect x="795" y="487" width="5" height="1"/><rect x="0" y="494" width="5" height="1"/><rect x="795" y="494" width="5" height="1"/><rect x="0" y="501" width="5" height="1"/><rect x="795" y="501" width="5" height="1"/><rect x="0" y="509" width="9" height="1"/><rect x="791" y="509" width="9" height="1"/><rect x="0" y="516" width="5" height="1"/><rect x="795" y="516" width="5" height="1"/><rect x="0" y="523" width="5" height="1"/><rect x="795" y="523" width="5" height="1"/><rect x="0" y="530" width="5" height="1"/><rect x="795" y="530" width="5" height="1"/><rect x="0" y="538" width="5" height="1"/><rect x="795" y="538" width="5" height="1"/><rect x="0" y="545" width="17" height="1"/><rect x="783" y="545" width="17" height="1"/><rect x="0" y="552" width="5" height="1"/><rect x="795" y="552" width="5" height="1"/><rect x="0" y="559" width="5" height="1"/><rect x="795" y="559" width="5" height="1"/><rect x="0" y="567" width="5" height="1"/><rect x="795" y="567" width="5" height="1"/><rect x="0" y="574" width="5" height="1"/><rect x="795" y="574" width="5" height="1"/><rect x="0" y="581" width="9" height="1"/><rect x="791" y="581" width="9" height="1"/><rect x="0" y="589" width="5" height="1"/><rect x="795" y="589" width="5" height="1"/><rect x="0" y="596" width="5" height="1"/><rect x="795" y="596" width="5" height="1"/><rect x="0" y="603" width="5" height="1"/><rect x="795" y="603" width="5" height="1"/><rect x="0" y="610" width="5" height="1"/><rect x="795" y="610" width="5" height="1"/><rect x="0" y="618" width="17" height="1"/><rect x="783" y="618" width="17" height="1"/><rect x="0" y="625" width="5" height="1"/><rect x="795" y="625" width="5" height="1"/><rect x="0" y="632" width="5" height="1"/><rect x="795" y="632" width="5" height="1"/><rect x="0" y="639" width="5" height="1"/><rect x="795" y="639" width="5" height="1"/><rect x="0" y="647" width="5" height="1"/><rect x="795" y="647" width="5" height="1"/><rect x="0" y="654" width="9" height="1"/><rect x="791" y="654" width="9" height="1"/><rect x="0" y="661" width="5" height="1"/><rect x="795" y="661" width="5" height="1"/><rect x="0" y="668" width="5" height="1"/><rect x="795" y="668" width="5" height="1"/><rect x="0" y="676" width="5" height="1"/><rect x="795" y="676" width="5" height="1"/><rect x="0" y="683" width="5" height="1"/><rect x="795" y="683" width="5" height="1"/><rect x="0" y="690" width="17" height="1"/><rect x="783" y="690" width="17" height="1"/><rect x="0" y="698" width="5" height="1"/><rect x="795" y="698" width="5" height="1"/><rect x="0" y="705" width="5" height="1"/><rect x="795" y="705" width="5" height="1"/><rect x="0" y="712" width="5" height="1"/><rect x="795" y="712" width="5" height="1"/><rect x="0" y="719" width="5" height="1"/><rect x="795" y="719" width="5" height="1"/><rect x="0" y="727" width="9" height="1"/><rect x="791" y="727" width="9" height="1"/><rect x="0" y="734" width="5" height="1"/><rect x="795" y="734" width="5" height="1"/><rect x="0" y="741" width="5" height="1"/><rect x="795" y="741" width="5" height="1"/><rect x="0" y="748" width="5" height="1"/><rect x="795" y="748" width="5" height="1"/><rect x="0" y="756" width="5" height="1"/><rect x="795" y="756" width="5" height="1"/><rect x="0" y="763" width="17" height="1"/><rect x="783" y="763" width="17" height="1"/><rect x="0" y="770" width="5" height="1"/><rect x="795" y="770" width="5" height="1"/>
</g>
<defs><linearGradient id="cb" x1="0" y1="0" x2="0" y2="1"><stop offset="0" stop-color="#c00080"/><stop offset="0.165" stop-color="#ff0000"/><stop offset="0.466" stop-color="#ffff00"/><stop offset="0.6" stop-color="#00ff00"/><stop offset="0.737" stop-color="#00ffff"/><stop offset="1" stop-color="#0000ff"/></linearGradient></defs>
<g shape-rendering="crispEdges"><rect x="32" y="160" width="50" height="609" fill="#fff"/><rect x="32.5" y="160.5" width="48" height="607" fill="#fff" stroke="#000" stroke-width="1"/><rect x="34" y="162" width="45" height="604" fill="url(#cb)"/></g>
<g fill="#000" font-size="13.5px">
<text x="33.5" y="148.8" font-size="16.5px">[m/s]</text><text x="86" y="165.0">30</text><text x="86" y="317.0">22</text><text x="86" y="469.0">15</text><text x="86" y="620.5">8</text><text x="86" y="772.5">0</text>
</g>
<g fill="#808080" font-weight="bold" font-size="24.5px">
<text y="49.6"><tspan x="3.76" textLength="106.23" lengthAdjust="spacingAndGlyphs">modelo</tspan> <tspan x="118.35" textLength="166.35" lengthAdjust="spacingAndGlyphs">GEFS-WAVE</tspan> <tspan x="292.64" textLength="98.29" lengthAdjust="spacingAndGlyphs">(NCEP)</tspan></text>
<text y="72.1"><tspan x="6.00" textLength="113.24" lengthAdjust="spacingAndGlyphs">forecast</tspan> <tspan x="128.89" textLength="73.04" lengthAdjust="spacingAndGlyphs">date:</tspan> <tspan x="211.10" textLength="156.81" lengthAdjust="spacingAndGlyphs">2025-09-07</tspan> <tspan x="377.19" textLength="122.29" lengthAdjust="spacingAndGlyphs">18:00:00</tspan></text>
<text y="95.1"><tspan x="41.18" textLength="69.85" lengthAdjust="spacingAndGlyphs">valid</tspan> <tspan x="119.79" textLength="73.04" lengthAdjust="spacingAndGlyphs">date:</tspan> <tspan x="202.10" textLength="157.02" lengthAdjust="spacingAndGlyphs">2025-09-23</tspan> <tspan x="367.20" textLength="121.98" lengthAdjust="spacingAndGlyphs">18:00:00</tspan></text>
</g>
</svg>
</body></html>
